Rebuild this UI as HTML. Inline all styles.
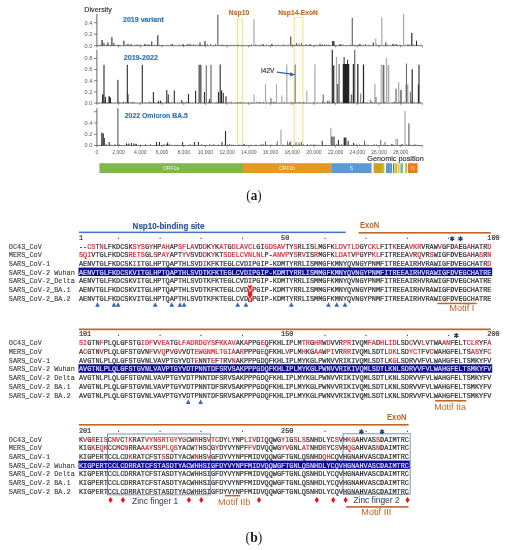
<!DOCTYPE html>
<html><head><meta charset="utf-8"><title>figure</title>
<style>
html,body{margin:0;padding:0;background:#fff;}
body{width:507px;height:550px;overflow:hidden;position:relative;}
svg{position:absolute;left:0;top:0;display:block;filter:blur(0.35px);}
</style></head><body>
<svg width="507" height="550" viewBox="0 0 507 550" font-family="Liberation Sans, sans-serif">
<rect width="507" height="550" fill="#fff"/>
<rect x="237.5" y="19.2" width="4.8" height="126.0" fill="#fffef8" stroke="#eedc62" stroke-width="0.8"/>
<rect x="294.1" y="17.3" width="8.8" height="127.9" fill="#fffef8" stroke="#eedc62" stroke-width="0.8"/>
<line x1="96.9" y1="14.0" x2="96.9" y2="46.2" stroke="#333" stroke-width="0.75"/>
<line x1="93.9" y1="45.70" x2="96.9" y2="45.70" stroke="#4a4a4a" stroke-width="0.7"/>
<line x1="93.9" y1="34.20" x2="96.9" y2="34.20" stroke="#4a4a4a" stroke-width="0.7"/>
<line x1="93.9" y1="22.70" x2="96.9" y2="22.70" stroke="#4a4a4a" stroke-width="0.7"/>
<text x="92.4" y="47.60" font-size="5.6" fill="#595959" text-anchor="end">0.0</text>
<text x="92.4" y="36.10" font-size="5.6" fill="#595959" text-anchor="end">0.2</text>
<text x="92.4" y="24.60" font-size="5.6" fill="#595959" text-anchor="end">0.4</text>
<line x1="96.9" y1="45.7" x2="422.40" y2="45.7" stroke="#4a4a4a" stroke-width="0.7"/>
<line x1="96.90" y1="45.7" x2="96.90" y2="47.5" stroke="#4a4a4a" stroke-width="0.6"/>
<line x1="118.60" y1="45.7" x2="118.60" y2="47.5" stroke="#4a4a4a" stroke-width="0.6"/>
<line x1="140.30" y1="45.7" x2="140.30" y2="47.5" stroke="#4a4a4a" stroke-width="0.6"/>
<line x1="162.00" y1="45.7" x2="162.00" y2="47.5" stroke="#4a4a4a" stroke-width="0.6"/>
<line x1="183.70" y1="45.7" x2="183.70" y2="47.5" stroke="#4a4a4a" stroke-width="0.6"/>
<line x1="205.40" y1="45.7" x2="205.40" y2="47.5" stroke="#4a4a4a" stroke-width="0.6"/>
<line x1="227.10" y1="45.7" x2="227.10" y2="47.5" stroke="#4a4a4a" stroke-width="0.6"/>
<line x1="248.80" y1="45.7" x2="248.80" y2="47.5" stroke="#4a4a4a" stroke-width="0.6"/>
<line x1="270.50" y1="45.7" x2="270.50" y2="47.5" stroke="#4a4a4a" stroke-width="0.6"/>
<line x1="292.20" y1="45.7" x2="292.20" y2="47.5" stroke="#4a4a4a" stroke-width="0.6"/>
<line x1="313.90" y1="45.7" x2="313.90" y2="47.5" stroke="#4a4a4a" stroke-width="0.6"/>
<line x1="335.60" y1="45.7" x2="335.60" y2="47.5" stroke="#4a4a4a" stroke-width="0.6"/>
<line x1="357.30" y1="45.7" x2="357.30" y2="47.5" stroke="#4a4a4a" stroke-width="0.6"/>
<line x1="379.00" y1="45.7" x2="379.00" y2="47.5" stroke="#4a4a4a" stroke-width="0.6"/>
<line x1="400.70" y1="45.7" x2="400.70" y2="47.5" stroke="#4a4a4a" stroke-width="0.6"/>
<line x1="422.40" y1="45.7" x2="422.40" y2="47.5" stroke="#4a4a4a" stroke-width="0.6"/>
<line x1="96.9" y1="49.7" x2="96.9" y2="103.6" stroke="#333" stroke-width="0.75"/>
<line x1="93.9" y1="103.10" x2="96.9" y2="103.10" stroke="#4a4a4a" stroke-width="0.7"/>
<line x1="93.9" y1="91.92" x2="96.9" y2="91.92" stroke="#4a4a4a" stroke-width="0.7"/>
<line x1="93.9" y1="80.74" x2="96.9" y2="80.74" stroke="#4a4a4a" stroke-width="0.7"/>
<line x1="93.9" y1="69.56" x2="96.9" y2="69.56" stroke="#4a4a4a" stroke-width="0.7"/>
<line x1="93.9" y1="58.38" x2="96.9" y2="58.38" stroke="#4a4a4a" stroke-width="0.7"/>
<text x="92.4" y="105.00" font-size="5.6" fill="#595959" text-anchor="end">0.0</text>
<text x="92.4" y="93.82" font-size="5.6" fill="#595959" text-anchor="end">0.2</text>
<text x="92.4" y="82.64" font-size="5.6" fill="#595959" text-anchor="end">0.4</text>
<text x="92.4" y="71.46" font-size="5.6" fill="#595959" text-anchor="end">0.6</text>
<text x="92.4" y="60.28" font-size="5.6" fill="#595959" text-anchor="end">0.8</text>
<line x1="96.9" y1="103.1" x2="422.40" y2="103.1" stroke="#4a4a4a" stroke-width="0.7"/>
<line x1="96.90" y1="103.1" x2="96.90" y2="104.89999999999999" stroke="#4a4a4a" stroke-width="0.6"/>
<line x1="118.60" y1="103.1" x2="118.60" y2="104.89999999999999" stroke="#4a4a4a" stroke-width="0.6"/>
<line x1="140.30" y1="103.1" x2="140.30" y2="104.89999999999999" stroke="#4a4a4a" stroke-width="0.6"/>
<line x1="162.00" y1="103.1" x2="162.00" y2="104.89999999999999" stroke="#4a4a4a" stroke-width="0.6"/>
<line x1="183.70" y1="103.1" x2="183.70" y2="104.89999999999999" stroke="#4a4a4a" stroke-width="0.6"/>
<line x1="205.40" y1="103.1" x2="205.40" y2="104.89999999999999" stroke="#4a4a4a" stroke-width="0.6"/>
<line x1="227.10" y1="103.1" x2="227.10" y2="104.89999999999999" stroke="#4a4a4a" stroke-width="0.6"/>
<line x1="248.80" y1="103.1" x2="248.80" y2="104.89999999999999" stroke="#4a4a4a" stroke-width="0.6"/>
<line x1="270.50" y1="103.1" x2="270.50" y2="104.89999999999999" stroke="#4a4a4a" stroke-width="0.6"/>
<line x1="292.20" y1="103.1" x2="292.20" y2="104.89999999999999" stroke="#4a4a4a" stroke-width="0.6"/>
<line x1="313.90" y1="103.1" x2="313.90" y2="104.89999999999999" stroke="#4a4a4a" stroke-width="0.6"/>
<line x1="335.60" y1="103.1" x2="335.60" y2="104.89999999999999" stroke="#4a4a4a" stroke-width="0.6"/>
<line x1="357.30" y1="103.1" x2="357.30" y2="104.89999999999999" stroke="#4a4a4a" stroke-width="0.6"/>
<line x1="379.00" y1="103.1" x2="379.00" y2="104.89999999999999" stroke="#4a4a4a" stroke-width="0.6"/>
<line x1="400.70" y1="103.1" x2="400.70" y2="104.89999999999999" stroke="#4a4a4a" stroke-width="0.6"/>
<line x1="422.40" y1="103.1" x2="422.40" y2="104.89999999999999" stroke="#4a4a4a" stroke-width="0.6"/>
<line x1="96.9" y1="108.0" x2="96.9" y2="146.0" stroke="#333" stroke-width="0.75"/>
<line x1="93.9" y1="145.50" x2="96.9" y2="145.50" stroke="#4a4a4a" stroke-width="0.7"/>
<line x1="93.9" y1="134.24" x2="96.9" y2="134.24" stroke="#4a4a4a" stroke-width="0.7"/>
<line x1="93.9" y1="122.98" x2="96.9" y2="122.98" stroke="#4a4a4a" stroke-width="0.7"/>
<line x1="93.9" y1="111.72" x2="96.9" y2="111.72" stroke="#4a4a4a" stroke-width="0.7"/>
<text x="92.4" y="147.40" font-size="5.6" fill="#595959" text-anchor="end">0.0</text>
<text x="92.4" y="136.14" font-size="5.6" fill="#595959" text-anchor="end">0.2</text>
<text x="92.4" y="124.88" font-size="5.6" fill="#595959" text-anchor="end">0.4</text>
<line x1="96.9" y1="145.5" x2="422.40" y2="145.5" stroke="#4a4a4a" stroke-width="0.7"/>
<line x1="96.90" y1="145.5" x2="96.90" y2="147.3" stroke="#4a4a4a" stroke-width="0.6"/>
<line x1="118.60" y1="145.5" x2="118.60" y2="147.3" stroke="#4a4a4a" stroke-width="0.6"/>
<line x1="140.30" y1="145.5" x2="140.30" y2="147.3" stroke="#4a4a4a" stroke-width="0.6"/>
<line x1="162.00" y1="145.5" x2="162.00" y2="147.3" stroke="#4a4a4a" stroke-width="0.6"/>
<line x1="183.70" y1="145.5" x2="183.70" y2="147.3" stroke="#4a4a4a" stroke-width="0.6"/>
<line x1="205.40" y1="145.5" x2="205.40" y2="147.3" stroke="#4a4a4a" stroke-width="0.6"/>
<line x1="227.10" y1="145.5" x2="227.10" y2="147.3" stroke="#4a4a4a" stroke-width="0.6"/>
<line x1="248.80" y1="145.5" x2="248.80" y2="147.3" stroke="#4a4a4a" stroke-width="0.6"/>
<line x1="270.50" y1="145.5" x2="270.50" y2="147.3" stroke="#4a4a4a" stroke-width="0.6"/>
<line x1="292.20" y1="145.5" x2="292.20" y2="147.3" stroke="#4a4a4a" stroke-width="0.6"/>
<line x1="313.90" y1="145.5" x2="313.90" y2="147.3" stroke="#4a4a4a" stroke-width="0.6"/>
<line x1="335.60" y1="145.5" x2="335.60" y2="147.3" stroke="#4a4a4a" stroke-width="0.6"/>
<line x1="357.30" y1="145.5" x2="357.30" y2="147.3" stroke="#4a4a4a" stroke-width="0.6"/>
<line x1="379.00" y1="145.5" x2="379.00" y2="147.3" stroke="#4a4a4a" stroke-width="0.6"/>
<line x1="400.70" y1="145.5" x2="400.70" y2="147.3" stroke="#4a4a4a" stroke-width="0.6"/>
<line x1="422.40" y1="145.5" x2="422.40" y2="147.3" stroke="#4a4a4a" stroke-width="0.6"/>
<text x="96.90" y="154.1" font-size="5.05" fill="#595959" text-anchor="middle">0</text>
<text x="118.60" y="154.1" font-size="5.05" fill="#595959" text-anchor="middle">2,000</text>
<text x="140.30" y="154.1" font-size="5.05" fill="#595959" text-anchor="middle">4,000</text>
<text x="162.00" y="154.1" font-size="5.05" fill="#595959" text-anchor="middle">6,000</text>
<text x="183.70" y="154.1" font-size="5.05" fill="#595959" text-anchor="middle">8,000</text>
<text x="205.40" y="154.1" font-size="5.05" fill="#595959" text-anchor="middle">10,000</text>
<text x="227.10" y="154.1" font-size="5.05" fill="#595959" text-anchor="middle">12,000</text>
<text x="248.80" y="154.1" font-size="5.05" fill="#595959" text-anchor="middle">14,000</text>
<text x="270.50" y="154.1" font-size="5.05" fill="#595959" text-anchor="middle">16,000</text>
<text x="292.20" y="154.1" font-size="5.05" fill="#595959" text-anchor="middle">18,000</text>
<text x="313.90" y="154.1" font-size="5.05" fill="#595959" text-anchor="middle">20,000</text>
<text x="335.60" y="154.1" font-size="5.05" fill="#595959" text-anchor="middle">22,000</text>
<text x="357.30" y="154.1" font-size="5.05" fill="#595959" text-anchor="middle">24,000</text>
<text x="379.00" y="154.1" font-size="5.05" fill="#595959" text-anchor="middle">26,000</text>
<text x="400.70" y="154.1" font-size="5.05" fill="#595959" text-anchor="middle">28,000</text>
<rect x="98.40" y="44.90" width="0.8" height="0.80" fill="#555"/>
<rect x="100.00" y="44.70" width="0.8" height="1.00" fill="#555"/>
<rect x="101.20" y="45.30" width="0.8" height="0.40" fill="#555"/>
<rect x="104.20" y="45.30" width="0.8" height="0.40" fill="#555"/>
<rect x="106.20" y="44.50" width="0.8" height="1.20" fill="#555"/>
<rect x="107.40" y="44.50" width="0.8" height="1.20" fill="#555"/>
<rect x="109.00" y="45.30" width="0.8" height="0.40" fill="#555"/>
<rect x="110.20" y="44.70" width="0.8" height="1.00" fill="#555"/>
<rect x="112.70" y="45.30" width="0.8" height="0.40" fill="#555"/>
<rect x="114.30" y="45.30" width="0.8" height="0.40" fill="#555"/>
<rect x="117.30" y="44.70" width="0.8" height="1.00" fill="#555"/>
<rect x="118.50" y="44.50" width="0.8" height="1.20" fill="#555"/>
<rect x="119.70" y="45.10" width="0.8" height="0.60" fill="#555"/>
<rect x="122.70" y="45.30" width="0.8" height="0.40" fill="#555"/>
<rect x="125.70" y="44.50" width="0.8" height="1.20" fill="#555"/>
<rect x="128.20" y="45.30" width="0.8" height="0.40" fill="#555"/>
<rect x="129.80" y="45.30" width="0.8" height="0.40" fill="#555"/>
<rect x="132.80" y="45.10" width="0.8" height="0.60" fill="#555"/>
<rect x="134.80" y="44.70" width="0.8" height="1.00" fill="#555"/>
<rect x="136.40" y="44.50" width="0.8" height="1.20" fill="#555"/>
<rect x="137.60" y="44.50" width="0.8" height="1.20" fill="#555"/>
<rect x="139.60" y="44.50" width="0.8" height="1.20" fill="#555"/>
<rect x="141.20" y="45.30" width="0.8" height="0.40" fill="#555"/>
<rect x="144.20" y="44.50" width="0.8" height="1.20" fill="#555"/>
<rect x="145.80" y="44.90" width="0.8" height="0.80" fill="#555"/>
<rect x="147.00" y="44.50" width="0.8" height="1.20" fill="#555"/>
<rect x="148.20" y="44.50" width="0.8" height="1.20" fill="#555"/>
<rect x="149.40" y="44.50" width="0.8" height="1.20" fill="#555"/>
<rect x="151.00" y="44.70" width="0.8" height="1.00" fill="#555"/>
<rect x="154.00" y="44.70" width="0.8" height="1.00" fill="#555"/>
<rect x="156.00" y="44.70" width="0.8" height="1.00" fill="#555"/>
<rect x="159.00" y="44.70" width="0.8" height="1.00" fill="#555"/>
<rect x="161.00" y="44.90" width="0.8" height="0.80" fill="#555"/>
<rect x="162.60" y="45.10" width="0.8" height="0.60" fill="#555"/>
<rect x="164.20" y="45.30" width="0.8" height="0.40" fill="#555"/>
<rect x="167.20" y="44.90" width="0.8" height="0.80" fill="#555"/>
<rect x="170.20" y="44.70" width="0.8" height="1.00" fill="#555"/>
<rect x="172.20" y="44.10" width="0.8" height="1.60" fill="#555"/>
<rect x="174.70" y="44.90" width="0.8" height="0.80" fill="#555"/>
<rect x="177.70" y="45.30" width="0.8" height="0.40" fill="#555"/>
<rect x="178.90" y="44.50" width="0.8" height="1.20" fill="#555"/>
<rect x="181.40" y="45.10" width="0.8" height="0.60" fill="#555"/>
<rect x="183.40" y="45.10" width="0.8" height="0.60" fill="#555"/>
<rect x="185.90" y="44.70" width="0.8" height="1.00" fill="#555"/>
<rect x="187.10" y="44.10" width="0.8" height="1.60" fill="#555"/>
<rect x="188.30" y="44.50" width="0.8" height="1.20" fill="#555"/>
<rect x="191.30" y="44.90" width="0.8" height="0.80" fill="#555"/>
<rect x="193.30" y="44.10" width="0.8" height="1.60" fill="#555"/>
<rect x="195.30" y="44.50" width="0.8" height="1.20" fill="#555"/>
<rect x="197.80" y="44.50" width="0.8" height="1.20" fill="#555"/>
<rect x="200.30" y="45.30" width="0.8" height="0.40" fill="#555"/>
<rect x="201.50" y="44.90" width="0.8" height="0.80" fill="#555"/>
<rect x="204.00" y="44.10" width="0.8" height="1.60" fill="#555"/>
<rect x="205.20" y="45.30" width="0.8" height="0.40" fill="#555"/>
<rect x="207.20" y="44.10" width="0.8" height="1.60" fill="#555"/>
<rect x="210.20" y="44.10" width="0.8" height="1.60" fill="#555"/>
<rect x="212.70" y="44.90" width="0.8" height="0.80" fill="#555"/>
<rect x="215.20" y="44.10" width="0.8" height="1.60" fill="#555"/>
<rect x="217.20" y="45.30" width="0.8" height="0.40" fill="#555"/>
<rect x="219.70" y="44.90" width="0.8" height="0.80" fill="#555"/>
<rect x="221.30" y="44.50" width="0.8" height="1.20" fill="#555"/>
<rect x="222.50" y="44.70" width="0.8" height="1.00" fill="#555"/>
<rect x="223.70" y="45.10" width="0.8" height="0.60" fill="#555"/>
<rect x="225.70" y="45.10" width="0.8" height="0.60" fill="#555"/>
<rect x="227.30" y="44.70" width="0.8" height="1.00" fill="#555"/>
<rect x="229.80" y="44.70" width="0.8" height="1.00" fill="#555"/>
<rect x="231.00" y="45.10" width="0.8" height="0.60" fill="#555"/>
<rect x="233.50" y="44.70" width="0.8" height="1.00" fill="#555"/>
<rect x="236.50" y="44.90" width="0.8" height="0.80" fill="#555"/>
<rect x="238.10" y="44.70" width="0.8" height="1.00" fill="#555"/>
<rect x="241.10" y="44.90" width="0.8" height="0.80" fill="#555"/>
<rect x="243.60" y="44.90" width="0.8" height="0.80" fill="#555"/>
<rect x="246.10" y="45.10" width="0.8" height="0.60" fill="#555"/>
<rect x="247.70" y="45.30" width="0.8" height="0.40" fill="#555"/>
<rect x="249.30" y="45.10" width="0.8" height="0.60" fill="#555"/>
<rect x="250.90" y="44.10" width="0.8" height="1.60" fill="#555"/>
<rect x="252.50" y="45.30" width="0.8" height="0.40" fill="#555"/>
<rect x="255.00" y="44.50" width="0.8" height="1.20" fill="#555"/>
<rect x="256.60" y="44.90" width="0.8" height="0.80" fill="#555"/>
<rect x="258.60" y="45.30" width="0.8" height="0.40" fill="#555"/>
<rect x="260.20" y="44.70" width="0.8" height="1.00" fill="#555"/>
<rect x="263.20" y="44.90" width="0.8" height="0.80" fill="#555"/>
<rect x="266.20" y="44.50" width="0.8" height="1.20" fill="#555"/>
<rect x="268.20" y="45.10" width="0.8" height="0.60" fill="#555"/>
<rect x="271.20" y="44.50" width="0.8" height="1.20" fill="#555"/>
<rect x="272.40" y="44.70" width="0.8" height="1.00" fill="#555"/>
<rect x="275.40" y="44.70" width="0.8" height="1.00" fill="#555"/>
<rect x="277.90" y="44.70" width="0.8" height="1.00" fill="#555"/>
<rect x="280.40" y="45.30" width="0.8" height="0.40" fill="#555"/>
<rect x="282.90" y="44.10" width="0.8" height="1.60" fill="#555"/>
<rect x="285.40" y="45.30" width="0.8" height="0.40" fill="#555"/>
<rect x="287.00" y="45.30" width="0.8" height="0.40" fill="#555"/>
<rect x="288.60" y="44.70" width="0.8" height="1.00" fill="#555"/>
<rect x="290.20" y="45.30" width="0.8" height="0.40" fill="#555"/>
<rect x="292.20" y="44.50" width="0.8" height="1.20" fill="#555"/>
<rect x="293.40" y="45.30" width="0.8" height="0.40" fill="#555"/>
<rect x="294.60" y="44.50" width="0.8" height="1.20" fill="#555"/>
<rect x="296.20" y="44.50" width="0.8" height="1.20" fill="#555"/>
<rect x="297.40" y="44.90" width="0.8" height="0.80" fill="#555"/>
<rect x="300.40" y="45.30" width="0.8" height="0.40" fill="#555"/>
<rect x="301.60" y="45.10" width="0.8" height="0.60" fill="#555"/>
<rect x="304.60" y="44.70" width="0.8" height="1.00" fill="#555"/>
<rect x="306.20" y="44.10" width="0.8" height="1.60" fill="#555"/>
<rect x="308.20" y="44.90" width="0.8" height="0.80" fill="#555"/>
<rect x="311.20" y="44.90" width="0.8" height="0.80" fill="#555"/>
<rect x="313.70" y="45.30" width="0.8" height="0.40" fill="#555"/>
<rect x="314.90" y="44.70" width="0.8" height="1.00" fill="#555"/>
<rect x="317.40" y="44.70" width="0.8" height="1.00" fill="#555"/>
<rect x="319.90" y="44.90" width="0.8" height="0.80" fill="#555"/>
<rect x="321.10" y="45.10" width="0.8" height="0.60" fill="#555"/>
<rect x="322.30" y="44.10" width="0.8" height="1.60" fill="#555"/>
<rect x="324.30" y="44.10" width="0.8" height="1.60" fill="#555"/>
<rect x="326.30" y="44.70" width="0.8" height="1.00" fill="#555"/>
<rect x="327.90" y="44.50" width="0.8" height="1.20" fill="#555"/>
<rect x="329.10" y="45.10" width="0.8" height="0.60" fill="#555"/>
<rect x="332.10" y="44.90" width="0.8" height="0.80" fill="#555"/>
<rect x="333.70" y="44.10" width="0.8" height="1.60" fill="#555"/>
<rect x="336.70" y="45.30" width="0.8" height="0.40" fill="#555"/>
<rect x="339.70" y="44.90" width="0.8" height="0.80" fill="#555"/>
<rect x="340.90" y="44.10" width="0.8" height="1.60" fill="#555"/>
<rect x="342.90" y="44.50" width="0.8" height="1.20" fill="#555"/>
<rect x="344.90" y="45.10" width="0.8" height="0.60" fill="#555"/>
<rect x="346.90" y="45.10" width="0.8" height="0.60" fill="#555"/>
<rect x="349.90" y="44.50" width="0.8" height="1.20" fill="#555"/>
<rect x="352.90" y="44.90" width="0.8" height="0.80" fill="#555"/>
<rect x="354.50" y="44.50" width="0.8" height="1.20" fill="#555"/>
<rect x="356.10" y="45.10" width="0.8" height="0.60" fill="#555"/>
<rect x="358.60" y="44.10" width="0.8" height="1.60" fill="#555"/>
<rect x="360.20" y="45.10" width="0.8" height="0.60" fill="#555"/>
<rect x="363.20" y="44.70" width="0.8" height="1.00" fill="#555"/>
<rect x="365.20" y="44.10" width="0.8" height="1.60" fill="#555"/>
<rect x="366.40" y="45.30" width="0.8" height="0.40" fill="#555"/>
<rect x="368.40" y="44.70" width="0.8" height="1.00" fill="#555"/>
<rect x="370.40" y="45.10" width="0.8" height="0.60" fill="#555"/>
<rect x="373.40" y="44.90" width="0.8" height="0.80" fill="#555"/>
<rect x="375.90" y="44.10" width="0.8" height="1.60" fill="#555"/>
<rect x="377.90" y="44.90" width="0.8" height="0.80" fill="#555"/>
<rect x="379.10" y="45.10" width="0.8" height="0.60" fill="#555"/>
<rect x="380.30" y="45.10" width="0.8" height="0.60" fill="#555"/>
<rect x="382.80" y="45.10" width="0.8" height="0.60" fill="#555"/>
<rect x="384.80" y="45.10" width="0.8" height="0.60" fill="#555"/>
<rect x="387.30" y="44.50" width="0.8" height="1.20" fill="#555"/>
<rect x="390.30" y="45.30" width="0.8" height="0.40" fill="#555"/>
<rect x="392.80" y="44.10" width="0.8" height="1.60" fill="#555"/>
<rect x="394.80" y="44.10" width="0.8" height="1.60" fill="#555"/>
<rect x="396.00" y="44.10" width="0.8" height="1.60" fill="#555"/>
<rect x="397.20" y="44.70" width="0.8" height="1.00" fill="#555"/>
<rect x="398.80" y="44.70" width="0.8" height="1.00" fill="#555"/>
<rect x="400.40" y="44.70" width="0.8" height="1.00" fill="#555"/>
<rect x="402.40" y="45.30" width="0.8" height="0.40" fill="#555"/>
<rect x="404.90" y="44.70" width="0.8" height="1.00" fill="#555"/>
<rect x="407.40" y="44.10" width="0.8" height="1.60" fill="#555"/>
<rect x="408.60" y="44.10" width="0.8" height="1.60" fill="#555"/>
<rect x="410.20" y="45.10" width="0.8" height="0.60" fill="#555"/>
<rect x="411.80" y="45.30" width="0.8" height="0.40" fill="#555"/>
<rect x="413.40" y="44.50" width="0.8" height="1.20" fill="#555"/>
<rect x="415.90" y="44.10" width="0.8" height="1.60" fill="#555"/>
<rect x="417.50" y="44.50" width="0.8" height="1.20" fill="#555"/>
<rect x="420.50" y="44.70" width="0.8" height="1.00" fill="#555"/>
<rect x="101.50" y="40.00" width="1.20" height="5.70" fill="#2b2b2b"/>
<rect x="103.50" y="43.00" width="1.00" height="2.70" fill="#2b2b2b"/>
<rect x="107.50" y="42.30" width="1.00" height="3.40" fill="#2b2b2b"/>
<rect x="111.35" y="37.10" width="1.10" height="8.60" fill="#2b2b2b"/>
<rect x="113.40" y="43.00" width="1.00" height="2.70" fill="#2b2b2b"/>
<rect x="123.35" y="40.80" width="1.10" height="4.90" fill="#2b2b2b"/>
<rect x="127.50" y="43.60" width="1.00" height="2.10" fill="#2b2b2b"/>
<rect x="130.50" y="44.00" width="1.00" height="1.70" fill="#2b2b2b"/>
<rect x="144.50" y="44.00" width="1.00" height="1.70" fill="#2b2b2b"/>
<rect x="151.30" y="41.50" width="1.00" height="4.20" fill="#2b2b2b"/>
<rect x="157.25" y="35.20" width="1.10" height="10.50" fill="#2b2b2b"/>
<rect x="199.50" y="42.30" width="1.00" height="3.40" fill="#2b2b2b"/>
<rect x="204.50" y="40.80" width="1.00" height="4.90" fill="#2b2b2b"/>
<rect x="217.20" y="14.70" width="1.20" height="31.00" fill="#6a6a6a"/>
<rect x="253.40" y="19.10" width="1.20" height="26.60" fill="#a8a8a8"/>
<rect x="290.00" y="36.50" width="1.40" height="9.20" fill="#6a6a6a"/>
<rect x="296.00" y="43.00" width="1.00" height="2.70" fill="#6a6a6a"/>
<rect x="298.50" y="43.50" width="1.00" height="2.20" fill="#6a6a6a"/>
<rect x="301.00" y="43.00" width="1.00" height="2.70" fill="#6a6a6a"/>
<rect x="332.10" y="41.00" width="1.00" height="4.70" fill="#2b2b2b"/>
<rect x="333.20" y="41.00" width="1.20" height="4.70" fill="#2b2b2b"/>
<rect x="351.70" y="17.90" width="1.20" height="27.80" fill="#6a6a6a"/>
<rect x="372.80" y="42.30" width="1.00" height="3.40" fill="#2b2b2b"/>
<rect x="375.20" y="38.60" width="1.20" height="7.10" fill="#a8a8a8"/>
<rect x="381.20" y="17.60" width="1.20" height="28.10" fill="#a8a8a8"/>
<rect x="385.30" y="42.30" width="1.00" height="3.40" fill="#2b2b2b"/>
<rect x="392.40" y="44.00" width="1.00" height="1.70" fill="#2b2b2b"/>
<rect x="403.00" y="13.90" width="1.20" height="31.80" fill="#a8a8a8"/>
<rect x="411.20" y="32.80" width="1.20" height="12.90" fill="#2b2b2b"/>
<rect x="416.00" y="40.70" width="1.00" height="5.00" fill="#2b2b2b"/>
<rect x="182.50" y="44.00" width="1.00" height="1.70" fill="#2b2b2b"/>
<rect x="171.50" y="44.20" width="1.00" height="1.50" fill="#2b2b2b"/>
<rect x="189.50" y="43.80" width="1.00" height="1.90" fill="#2b2b2b"/>
<rect x="262.50" y="44.00" width="1.00" height="1.70" fill="#2b2b2b"/>
<rect x="271.50" y="44.00" width="1.00" height="1.70" fill="#2b2b2b"/>
<rect x="309.50" y="44.00" width="1.00" height="1.70" fill="#2b2b2b"/>
<rect x="319.50" y="43.80" width="1.00" height="1.90" fill="#2b2b2b"/>
<rect x="339.50" y="44.00" width="1.00" height="1.70" fill="#2b2b2b"/>
<rect x="359.50" y="44.00" width="1.00" height="1.70" fill="#2b2b2b"/>
<rect x="98.40" y="102.50" width="0.8" height="0.60" fill="#555"/>
<rect x="101.40" y="101.90" width="0.8" height="1.20" fill="#555"/>
<rect x="103.00" y="102.70" width="0.8" height="0.40" fill="#555"/>
<rect x="104.20" y="101.50" width="0.8" height="1.60" fill="#555"/>
<rect x="105.40" y="101.90" width="0.8" height="1.20" fill="#555"/>
<rect x="107.00" y="102.10" width="0.8" height="1.00" fill="#555"/>
<rect x="108.60" y="102.50" width="0.8" height="0.60" fill="#555"/>
<rect x="109.80" y="102.30" width="0.8" height="0.80" fill="#555"/>
<rect x="111.40" y="102.30" width="0.8" height="0.80" fill="#555"/>
<rect x="114.40" y="102.50" width="0.8" height="0.60" fill="#555"/>
<rect x="117.40" y="102.30" width="0.8" height="0.80" fill="#555"/>
<rect x="119.40" y="101.90" width="0.8" height="1.20" fill="#555"/>
<rect x="121.90" y="102.50" width="0.8" height="0.60" fill="#555"/>
<rect x="123.10" y="101.50" width="0.8" height="1.60" fill="#555"/>
<rect x="125.10" y="102.10" width="0.8" height="1.00" fill="#555"/>
<rect x="128.10" y="101.90" width="0.8" height="1.20" fill="#555"/>
<rect x="130.60" y="101.90" width="0.8" height="1.20" fill="#555"/>
<rect x="132.20" y="101.90" width="0.8" height="1.20" fill="#555"/>
<rect x="133.80" y="101.90" width="0.8" height="1.20" fill="#555"/>
<rect x="136.80" y="102.70" width="0.8" height="0.40" fill="#555"/>
<rect x="139.30" y="102.50" width="0.8" height="0.60" fill="#555"/>
<rect x="142.30" y="102.70" width="0.8" height="0.40" fill="#555"/>
<rect x="143.90" y="102.50" width="0.8" height="0.60" fill="#555"/>
<rect x="145.50" y="102.10" width="0.8" height="1.00" fill="#555"/>
<rect x="148.50" y="101.50" width="0.8" height="1.60" fill="#555"/>
<rect x="149.70" y="101.90" width="0.8" height="1.20" fill="#555"/>
<rect x="150.90" y="102.30" width="0.8" height="0.80" fill="#555"/>
<rect x="153.90" y="101.90" width="0.8" height="1.20" fill="#555"/>
<rect x="156.90" y="102.10" width="0.8" height="1.00" fill="#555"/>
<rect x="158.10" y="101.90" width="0.8" height="1.20" fill="#555"/>
<rect x="159.30" y="102.50" width="0.8" height="0.60" fill="#555"/>
<rect x="160.90" y="102.30" width="0.8" height="0.80" fill="#555"/>
<rect x="162.10" y="102.70" width="0.8" height="0.40" fill="#555"/>
<rect x="165.10" y="102.10" width="0.8" height="1.00" fill="#555"/>
<rect x="168.10" y="102.70" width="0.8" height="0.40" fill="#555"/>
<rect x="169.30" y="102.10" width="0.8" height="1.00" fill="#555"/>
<rect x="171.30" y="101.90" width="0.8" height="1.20" fill="#555"/>
<rect x="174.30" y="101.90" width="0.8" height="1.20" fill="#555"/>
<rect x="177.30" y="102.50" width="0.8" height="0.60" fill="#555"/>
<rect x="179.30" y="102.10" width="0.8" height="1.00" fill="#555"/>
<rect x="182.30" y="101.90" width="0.8" height="1.20" fill="#555"/>
<rect x="184.80" y="101.90" width="0.8" height="1.20" fill="#555"/>
<rect x="186.40" y="101.50" width="0.8" height="1.60" fill="#555"/>
<rect x="189.40" y="102.30" width="0.8" height="0.80" fill="#555"/>
<rect x="192.40" y="102.50" width="0.8" height="0.60" fill="#555"/>
<rect x="194.90" y="102.50" width="0.8" height="0.60" fill="#555"/>
<rect x="197.40" y="102.70" width="0.8" height="0.40" fill="#555"/>
<rect x="199.90" y="102.10" width="0.8" height="1.00" fill="#555"/>
<rect x="201.90" y="102.70" width="0.8" height="0.40" fill="#555"/>
<rect x="203.50" y="102.10" width="0.8" height="1.00" fill="#555"/>
<rect x="204.70" y="102.50" width="0.8" height="0.60" fill="#555"/>
<rect x="206.70" y="102.70" width="0.8" height="0.40" fill="#555"/>
<rect x="208.30" y="101.50" width="0.8" height="1.60" fill="#555"/>
<rect x="210.30" y="102.50" width="0.8" height="0.60" fill="#555"/>
<rect x="212.30" y="102.50" width="0.8" height="0.60" fill="#555"/>
<rect x="214.80" y="102.50" width="0.8" height="0.60" fill="#555"/>
<rect x="216.00" y="102.10" width="0.8" height="1.00" fill="#555"/>
<rect x="218.50" y="102.50" width="0.8" height="0.60" fill="#555"/>
<rect x="220.10" y="102.50" width="0.8" height="0.60" fill="#555"/>
<rect x="222.60" y="101.90" width="0.8" height="1.20" fill="#555"/>
<rect x="225.10" y="102.30" width="0.8" height="0.80" fill="#555"/>
<rect x="227.60" y="102.50" width="0.8" height="0.60" fill="#555"/>
<rect x="229.60" y="102.30" width="0.8" height="0.80" fill="#555"/>
<rect x="230.80" y="101.50" width="0.8" height="1.60" fill="#555"/>
<rect x="232.80" y="102.70" width="0.8" height="0.40" fill="#555"/>
<rect x="234.80" y="101.90" width="0.8" height="1.20" fill="#555"/>
<rect x="237.30" y="102.10" width="0.8" height="1.00" fill="#555"/>
<rect x="238.50" y="102.10" width="0.8" height="1.00" fill="#555"/>
<rect x="240.50" y="101.90" width="0.8" height="1.20" fill="#555"/>
<rect x="243.50" y="102.30" width="0.8" height="0.80" fill="#555"/>
<rect x="246.50" y="102.70" width="0.8" height="0.40" fill="#555"/>
<rect x="247.70" y="102.50" width="0.8" height="0.60" fill="#555"/>
<rect x="248.90" y="102.70" width="0.8" height="0.40" fill="#555"/>
<rect x="250.90" y="102.30" width="0.8" height="0.80" fill="#555"/>
<rect x="252.10" y="102.50" width="0.8" height="0.60" fill="#555"/>
<rect x="254.10" y="102.50" width="0.8" height="0.60" fill="#555"/>
<rect x="256.60" y="101.50" width="0.8" height="1.60" fill="#555"/>
<rect x="258.60" y="102.10" width="0.8" height="1.00" fill="#555"/>
<rect x="260.20" y="101.90" width="0.8" height="1.20" fill="#555"/>
<rect x="263.20" y="101.90" width="0.8" height="1.20" fill="#555"/>
<rect x="265.70" y="101.50" width="0.8" height="1.60" fill="#555"/>
<rect x="267.70" y="102.70" width="0.8" height="0.40" fill="#555"/>
<rect x="269.70" y="102.70" width="0.8" height="0.40" fill="#555"/>
<rect x="271.30" y="102.10" width="0.8" height="1.00" fill="#555"/>
<rect x="272.50" y="102.30" width="0.8" height="0.80" fill="#555"/>
<rect x="273.70" y="101.50" width="0.8" height="1.60" fill="#555"/>
<rect x="274.90" y="102.30" width="0.8" height="0.80" fill="#555"/>
<rect x="276.10" y="101.90" width="0.8" height="1.20" fill="#555"/>
<rect x="277.70" y="102.70" width="0.8" height="0.40" fill="#555"/>
<rect x="279.70" y="102.70" width="0.8" height="0.40" fill="#555"/>
<rect x="282.20" y="102.70" width="0.8" height="0.40" fill="#555"/>
<rect x="284.20" y="101.90" width="0.8" height="1.20" fill="#555"/>
<rect x="286.70" y="102.30" width="0.8" height="0.80" fill="#555"/>
<rect x="289.70" y="102.50" width="0.8" height="0.60" fill="#555"/>
<rect x="290.90" y="101.90" width="0.8" height="1.20" fill="#555"/>
<rect x="292.50" y="102.70" width="0.8" height="0.40" fill="#555"/>
<rect x="294.10" y="102.30" width="0.8" height="0.80" fill="#555"/>
<rect x="295.30" y="102.50" width="0.8" height="0.60" fill="#555"/>
<rect x="296.90" y="102.30" width="0.8" height="0.80" fill="#555"/>
<rect x="298.90" y="101.90" width="0.8" height="1.20" fill="#555"/>
<rect x="300.50" y="102.30" width="0.8" height="0.80" fill="#555"/>
<rect x="303.00" y="101.90" width="0.8" height="1.20" fill="#555"/>
<rect x="304.60" y="102.30" width="0.8" height="0.80" fill="#555"/>
<rect x="306.60" y="102.70" width="0.8" height="0.40" fill="#555"/>
<rect x="308.60" y="102.70" width="0.8" height="0.40" fill="#555"/>
<rect x="309.80" y="102.70" width="0.8" height="0.40" fill="#555"/>
<rect x="312.80" y="101.90" width="0.8" height="1.20" fill="#555"/>
<rect x="314.40" y="101.90" width="0.8" height="1.20" fill="#555"/>
<rect x="316.90" y="102.50" width="0.8" height="0.60" fill="#555"/>
<rect x="319.40" y="102.70" width="0.8" height="0.40" fill="#555"/>
<rect x="321.90" y="101.50" width="0.8" height="1.60" fill="#555"/>
<rect x="324.40" y="101.90" width="0.8" height="1.20" fill="#555"/>
<rect x="326.90" y="101.90" width="0.8" height="1.20" fill="#555"/>
<rect x="328.90" y="101.50" width="0.8" height="1.60" fill="#555"/>
<rect x="330.50" y="102.50" width="0.8" height="0.60" fill="#555"/>
<rect x="332.50" y="102.50" width="0.8" height="0.60" fill="#555"/>
<rect x="334.10" y="102.10" width="0.8" height="1.00" fill="#555"/>
<rect x="336.10" y="102.70" width="0.8" height="0.40" fill="#555"/>
<rect x="337.70" y="102.70" width="0.8" height="0.40" fill="#555"/>
<rect x="338.90" y="101.50" width="0.8" height="1.60" fill="#555"/>
<rect x="340.90" y="102.10" width="0.8" height="1.00" fill="#555"/>
<rect x="342.50" y="102.70" width="0.8" height="0.40" fill="#555"/>
<rect x="343.70" y="101.50" width="0.8" height="1.60" fill="#555"/>
<rect x="346.20" y="101.90" width="0.8" height="1.20" fill="#555"/>
<rect x="348.20" y="101.90" width="0.8" height="1.20" fill="#555"/>
<rect x="349.80" y="101.50" width="0.8" height="1.60" fill="#555"/>
<rect x="351.80" y="102.70" width="0.8" height="0.40" fill="#555"/>
<rect x="354.30" y="102.50" width="0.8" height="0.60" fill="#555"/>
<rect x="355.90" y="102.30" width="0.8" height="0.80" fill="#555"/>
<rect x="358.40" y="102.70" width="0.8" height="0.40" fill="#555"/>
<rect x="360.40" y="102.30" width="0.8" height="0.80" fill="#555"/>
<rect x="362.40" y="101.90" width="0.8" height="1.20" fill="#555"/>
<rect x="364.40" y="102.50" width="0.8" height="0.60" fill="#555"/>
<rect x="365.60" y="102.30" width="0.8" height="0.80" fill="#555"/>
<rect x="367.20" y="102.30" width="0.8" height="0.80" fill="#555"/>
<rect x="368.80" y="102.70" width="0.8" height="0.40" fill="#555"/>
<rect x="370.80" y="102.10" width="0.8" height="1.00" fill="#555"/>
<rect x="372.00" y="102.10" width="0.8" height="1.00" fill="#555"/>
<rect x="374.00" y="101.90" width="0.8" height="1.20" fill="#555"/>
<rect x="375.60" y="102.50" width="0.8" height="0.60" fill="#555"/>
<rect x="378.60" y="102.70" width="0.8" height="0.40" fill="#555"/>
<rect x="379.80" y="102.30" width="0.8" height="0.80" fill="#555"/>
<rect x="381.00" y="102.50" width="0.8" height="0.60" fill="#555"/>
<rect x="383.50" y="101.90" width="0.8" height="1.20" fill="#555"/>
<rect x="384.70" y="102.10" width="0.8" height="1.00" fill="#555"/>
<rect x="385.90" y="102.30" width="0.8" height="0.80" fill="#555"/>
<rect x="387.90" y="101.50" width="0.8" height="1.60" fill="#555"/>
<rect x="389.50" y="102.70" width="0.8" height="0.40" fill="#555"/>
<rect x="392.50" y="101.90" width="0.8" height="1.20" fill="#555"/>
<rect x="394.10" y="101.50" width="0.8" height="1.60" fill="#555"/>
<rect x="397.10" y="102.10" width="0.8" height="1.00" fill="#555"/>
<rect x="399.10" y="101.50" width="0.8" height="1.60" fill="#555"/>
<rect x="401.60" y="102.50" width="0.8" height="0.60" fill="#555"/>
<rect x="403.60" y="101.50" width="0.8" height="1.60" fill="#555"/>
<rect x="406.60" y="101.50" width="0.8" height="1.60" fill="#555"/>
<rect x="408.20" y="102.70" width="0.8" height="0.40" fill="#555"/>
<rect x="411.20" y="101.50" width="0.8" height="1.60" fill="#555"/>
<rect x="413.70" y="101.50" width="0.8" height="1.60" fill="#555"/>
<rect x="416.70" y="102.50" width="0.8" height="0.60" fill="#555"/>
<rect x="419.70" y="101.90" width="0.8" height="1.20" fill="#555"/>
<rect x="102.05" y="94.40" width="1.50" height="8.70" fill="#2b2b2b"/>
<rect x="103.45" y="64.80" width="1.10" height="38.30" fill="#2b2b2b"/>
<rect x="105.00" y="97.00" width="1.00" height="6.10" fill="#2b2b2b"/>
<rect x="108.45" y="96.30" width="1.50" height="6.80" fill="#2b2b2b"/>
<rect x="110.00" y="97.50" width="1.00" height="5.60" fill="#2b2b2b"/>
<rect x="117.35" y="79.90" width="1.10" height="23.20" fill="#2b2b2b"/>
<rect x="126.75" y="64.80" width="1.10" height="38.30" fill="#2b2b2b"/>
<rect x="127.50" y="94.40" width="1.00" height="8.70" fill="#2b2b2b"/>
<rect x="141.75" y="64.80" width="1.10" height="38.30" fill="#2b2b2b"/>
<rect x="152.85" y="92.00" width="1.10" height="11.10" fill="#2b2b2b"/>
<rect x="158.00" y="100.70" width="1.00" height="2.40" fill="#2b2b2b"/>
<rect x="160.00" y="100.70" width="1.00" height="2.40" fill="#2b2b2b"/>
<rect x="166.25" y="90.00" width="1.10" height="13.10" fill="#2b2b2b"/>
<rect x="167.80" y="94.40" width="1.00" height="8.70" fill="#2b2b2b"/>
<rect x="173.75" y="90.50" width="1.10" height="12.60" fill="#2b2b2b"/>
<rect x="181.30" y="100.00" width="1.00" height="3.10" fill="#2b2b2b"/>
<rect x="187.95" y="94.00" width="1.10" height="9.10" fill="#2b2b2b"/>
<rect x="195.05" y="90.60" width="1.10" height="12.50" fill="#2b2b2b"/>
<rect x="198.45" y="64.80" width="3.10" height="38.30" fill="#6a6a6a"/>
<rect x="203.95" y="92.00" width="1.10" height="11.10" fill="#2b2b2b"/>
<rect x="205.75" y="65.30" width="1.10" height="37.80" fill="#6a6a6a"/>
<rect x="209.20" y="99.00" width="1.00" height="4.10" fill="#2b2b2b"/>
<rect x="210.40" y="64.80" width="1.20" height="38.30" fill="#6a6a6a"/>
<rect x="217.90" y="92.00" width="1.20" height="11.10" fill="#2b2b2b"/>
<rect x="219.65" y="64.50" width="1.10" height="38.60" fill="#2b2b2b"/>
<rect x="221.00" y="90.50" width="1.20" height="12.60" fill="#2b2b2b"/>
<rect x="222.80" y="93.00" width="1.00" height="10.10" fill="#2b2b2b"/>
<rect x="225.45" y="96.30" width="1.10" height="6.80" fill="#2b2b2b"/>
<rect x="253.55" y="94.40" width="1.10" height="8.70" fill="#a8a8a8"/>
<rect x="264.95" y="84.20" width="1.10" height="18.90" fill="#a8a8a8"/>
<rect x="270.50" y="97.90" width="1.00" height="5.20" fill="#6a6a6a"/>
<rect x="275.95" y="84.20" width="1.10" height="18.90" fill="#a8a8a8"/>
<rect x="281.25" y="95.20" width="1.10" height="7.90" fill="#a8a8a8"/>
<rect x="286.20" y="64.50" width="1.20" height="38.60" fill="#a8a8a8"/>
<rect x="294.60" y="64.50" width="1.20" height="38.60" fill="#8a8560"/>
<rect x="306.25" y="90.50" width="1.10" height="12.60" fill="#a8a8a8"/>
<rect x="314.30" y="64.50" width="1.20" height="38.60" fill="#a8a8a8"/>
<rect x="322.65" y="94.40" width="1.10" height="8.70" fill="#6a6a6a"/>
<rect x="327.00" y="100.70" width="1.00" height="2.40" fill="#6a6a6a"/>
<rect x="328.50" y="100.70" width="1.00" height="2.40" fill="#6a6a6a"/>
<rect x="331.70" y="49.80" width="1.20" height="53.30" fill="#2b2b2b"/>
<rect x="333.10" y="65.30" width="1.20" height="37.80" fill="#2b2b2b"/>
<rect x="335.85" y="56.90" width="1.30" height="46.20" fill="#a8a8a8"/>
<rect x="337.30" y="84.00" width="1.00" height="19.10" fill="#2b2b2b"/>
<rect x="338.50" y="64.00" width="1.20" height="39.10" fill="#6a6a6a"/>
<rect x="342.75" y="64.00" width="6.50" height="39.10" fill="#1e1e1e"/>
<rect x="343.60" y="57.00" width="1.00" height="46.10" fill="#2b2b2b"/>
<rect x="347.10" y="59.70" width="1.00" height="43.40" fill="#2b2b2b"/>
<rect x="350.75" y="94.40" width="1.50" height="8.70" fill="#6a6a6a"/>
<rect x="352.80" y="64.00" width="1.20" height="39.10" fill="#2b2b2b"/>
<rect x="354.10" y="49.80" width="1.20" height="53.30" fill="#6a6a6a"/>
<rect x="357.15" y="64.00" width="1.30" height="39.10" fill="#2b2b2b"/>
<rect x="360.20" y="93.60" width="1.00" height="9.50" fill="#6a6a6a"/>
<rect x="362.85" y="64.50" width="1.30" height="38.60" fill="#2b2b2b"/>
<rect x="370.30" y="100.00" width="1.00" height="3.10" fill="#6a6a6a"/>
<rect x="374.30" y="84.20" width="1.20" height="18.90" fill="#a8a8a8"/>
<rect x="375.50" y="97.00" width="1.00" height="6.10" fill="#6a6a6a"/>
<rect x="380.65" y="65.00" width="1.10" height="38.10" fill="#a8a8a8"/>
<rect x="382.60" y="65.00" width="1.80" height="38.10" fill="#6a6a6a"/>
<rect x="385.90" y="58.00" width="1.20" height="45.10" fill="#a8a8a8"/>
<rect x="387.70" y="65.00" width="1.60" height="38.10" fill="#a8a8a8"/>
<rect x="395.40" y="88.70" width="1.20" height="14.40" fill="#6a6a6a"/>
<rect x="398.10" y="82.20" width="1.20" height="20.90" fill="#a8a8a8"/>
<rect x="400.45" y="90.00" width="1.10" height="13.10" fill="#2b2b2b"/>
<rect x="405.40" y="84.60" width="3.00" height="18.50" fill="#a8a8a8"/>
<rect x="405.95" y="63.50" width="1.10" height="39.60" fill="#6a6a6a"/>
<rect x="409.90" y="91.70" width="1.00" height="11.40" fill="#6a6a6a"/>
<rect x="411.60" y="69.20" width="1.20" height="33.90" fill="#2b2b2b"/>
<rect x="417.85" y="84.60" width="1.10" height="18.50" fill="#2b2b2b"/>
<rect x="418.45" y="64.70" width="1.10" height="38.40" fill="#2b2b2b"/>
<rect x="98.40" y="145.10" width="0.8" height="0.40" fill="#555"/>
<rect x="101.40" y="143.90" width="0.8" height="1.60" fill="#555"/>
<rect x="103.00" y="145.10" width="0.8" height="0.40" fill="#555"/>
<rect x="104.20" y="145.10" width="0.8" height="0.40" fill="#555"/>
<rect x="105.80" y="143.90" width="0.8" height="1.60" fill="#555"/>
<rect x="107.80" y="145.10" width="0.8" height="0.40" fill="#555"/>
<rect x="110.30" y="144.50" width="0.8" height="1.00" fill="#555"/>
<rect x="113.30" y="145.10" width="0.8" height="0.40" fill="#555"/>
<rect x="114.50" y="143.90" width="0.8" height="1.60" fill="#555"/>
<rect x="117.50" y="143.90" width="0.8" height="1.60" fill="#555"/>
<rect x="119.10" y="144.50" width="0.8" height="1.00" fill="#555"/>
<rect x="121.10" y="145.10" width="0.8" height="0.40" fill="#555"/>
<rect x="123.60" y="145.10" width="0.8" height="0.40" fill="#555"/>
<rect x="126.60" y="144.30" width="0.8" height="1.20" fill="#555"/>
<rect x="127.80" y="143.90" width="0.8" height="1.60" fill="#555"/>
<rect x="130.80" y="145.10" width="0.8" height="0.40" fill="#555"/>
<rect x="133.30" y="144.70" width="0.8" height="0.80" fill="#555"/>
<rect x="134.50" y="144.70" width="0.8" height="0.80" fill="#555"/>
<rect x="136.10" y="143.90" width="0.8" height="1.60" fill="#555"/>
<rect x="137.70" y="144.90" width="0.8" height="0.60" fill="#555"/>
<rect x="140.20" y="144.50" width="0.8" height="1.00" fill="#555"/>
<rect x="142.70" y="145.10" width="0.8" height="0.40" fill="#555"/>
<rect x="145.20" y="143.90" width="0.8" height="1.60" fill="#555"/>
<rect x="147.20" y="145.10" width="0.8" height="0.40" fill="#555"/>
<rect x="150.20" y="143.90" width="0.8" height="1.60" fill="#555"/>
<rect x="151.80" y="145.10" width="0.8" height="0.40" fill="#555"/>
<rect x="154.80" y="144.90" width="0.8" height="0.60" fill="#555"/>
<rect x="156.80" y="144.70" width="0.8" height="0.80" fill="#555"/>
<rect x="158.80" y="144.30" width="0.8" height="1.20" fill="#555"/>
<rect x="161.80" y="144.90" width="0.8" height="0.60" fill="#555"/>
<rect x="163.00" y="144.50" width="0.8" height="1.00" fill="#555"/>
<rect x="164.20" y="144.50" width="0.8" height="1.00" fill="#555"/>
<rect x="166.20" y="143.90" width="0.8" height="1.60" fill="#555"/>
<rect x="167.40" y="143.90" width="0.8" height="1.60" fill="#555"/>
<rect x="169.00" y="143.90" width="0.8" height="1.60" fill="#555"/>
<rect x="171.50" y="144.70" width="0.8" height="0.80" fill="#555"/>
<rect x="174.50" y="144.70" width="0.8" height="0.80" fill="#555"/>
<rect x="177.00" y="144.50" width="0.8" height="1.00" fill="#555"/>
<rect x="179.50" y="145.10" width="0.8" height="0.40" fill="#555"/>
<rect x="182.50" y="144.90" width="0.8" height="0.60" fill="#555"/>
<rect x="184.50" y="145.10" width="0.8" height="0.40" fill="#555"/>
<rect x="187.00" y="145.10" width="0.8" height="0.40" fill="#555"/>
<rect x="189.00" y="144.50" width="0.8" height="1.00" fill="#555"/>
<rect x="190.20" y="144.30" width="0.8" height="1.20" fill="#555"/>
<rect x="192.70" y="144.70" width="0.8" height="0.80" fill="#555"/>
<rect x="195.20" y="144.90" width="0.8" height="0.60" fill="#555"/>
<rect x="196.80" y="145.10" width="0.8" height="0.40" fill="#555"/>
<rect x="199.80" y="145.10" width="0.8" height="0.40" fill="#555"/>
<rect x="201.40" y="143.90" width="0.8" height="1.60" fill="#555"/>
<rect x="204.40" y="144.70" width="0.8" height="0.80" fill="#555"/>
<rect x="206.40" y="144.90" width="0.8" height="0.60" fill="#555"/>
<rect x="209.40" y="143.90" width="0.8" height="1.60" fill="#555"/>
<rect x="212.40" y="144.70" width="0.8" height="0.80" fill="#555"/>
<rect x="213.60" y="143.90" width="0.8" height="1.60" fill="#555"/>
<rect x="215.60" y="144.90" width="0.8" height="0.60" fill="#555"/>
<rect x="218.10" y="144.50" width="0.8" height="1.00" fill="#555"/>
<rect x="220.60" y="145.10" width="0.8" height="0.40" fill="#555"/>
<rect x="222.20" y="145.10" width="0.8" height="0.40" fill="#555"/>
<rect x="224.70" y="143.90" width="0.8" height="1.60" fill="#555"/>
<rect x="227.20" y="144.50" width="0.8" height="1.00" fill="#555"/>
<rect x="229.20" y="143.90" width="0.8" height="1.60" fill="#555"/>
<rect x="230.80" y="144.50" width="0.8" height="1.00" fill="#555"/>
<rect x="232.80" y="144.50" width="0.8" height="1.00" fill="#555"/>
<rect x="234.80" y="145.10" width="0.8" height="0.40" fill="#555"/>
<rect x="236.80" y="145.10" width="0.8" height="0.40" fill="#555"/>
<rect x="238.80" y="144.70" width="0.8" height="0.80" fill="#555"/>
<rect x="241.30" y="145.10" width="0.8" height="0.40" fill="#555"/>
<rect x="242.90" y="143.90" width="0.8" height="1.60" fill="#555"/>
<rect x="244.10" y="143.90" width="0.8" height="1.60" fill="#555"/>
<rect x="246.10" y="144.70" width="0.8" height="0.80" fill="#555"/>
<rect x="248.10" y="145.10" width="0.8" height="0.40" fill="#555"/>
<rect x="250.60" y="144.50" width="0.8" height="1.00" fill="#555"/>
<rect x="253.60" y="145.10" width="0.8" height="0.40" fill="#555"/>
<rect x="255.60" y="144.50" width="0.8" height="1.00" fill="#555"/>
<rect x="257.60" y="145.10" width="0.8" height="0.40" fill="#555"/>
<rect x="259.60" y="145.10" width="0.8" height="0.40" fill="#555"/>
<rect x="260.80" y="143.90" width="0.8" height="1.60" fill="#555"/>
<rect x="262.80" y="143.90" width="0.8" height="1.60" fill="#555"/>
<rect x="264.40" y="144.90" width="0.8" height="0.60" fill="#555"/>
<rect x="266.40" y="144.50" width="0.8" height="1.00" fill="#555"/>
<rect x="269.40" y="144.70" width="0.8" height="0.80" fill="#555"/>
<rect x="271.00" y="144.70" width="0.8" height="0.80" fill="#555"/>
<rect x="273.50" y="145.10" width="0.8" height="0.40" fill="#555"/>
<rect x="276.00" y="144.30" width="0.8" height="1.20" fill="#555"/>
<rect x="279.00" y="144.90" width="0.8" height="0.60" fill="#555"/>
<rect x="280.20" y="145.10" width="0.8" height="0.40" fill="#555"/>
<rect x="282.70" y="144.50" width="0.8" height="1.00" fill="#555"/>
<rect x="285.70" y="144.90" width="0.8" height="0.60" fill="#555"/>
<rect x="287.70" y="144.50" width="0.8" height="1.00" fill="#555"/>
<rect x="288.90" y="144.30" width="0.8" height="1.20" fill="#555"/>
<rect x="290.50" y="144.90" width="0.8" height="0.60" fill="#555"/>
<rect x="293.00" y="144.50" width="0.8" height="1.00" fill="#555"/>
<rect x="295.00" y="144.70" width="0.8" height="0.80" fill="#555"/>
<rect x="297.00" y="144.70" width="0.8" height="0.80" fill="#555"/>
<rect x="299.00" y="144.50" width="0.8" height="1.00" fill="#555"/>
<rect x="300.60" y="144.70" width="0.8" height="0.80" fill="#555"/>
<rect x="303.10" y="144.30" width="0.8" height="1.20" fill="#555"/>
<rect x="305.60" y="145.10" width="0.8" height="0.40" fill="#555"/>
<rect x="307.20" y="143.90" width="0.8" height="1.60" fill="#555"/>
<rect x="308.80" y="145.10" width="0.8" height="0.40" fill="#555"/>
<rect x="310.40" y="144.30" width="0.8" height="1.20" fill="#555"/>
<rect x="312.90" y="144.30" width="0.8" height="1.20" fill="#555"/>
<rect x="314.50" y="144.50" width="0.8" height="1.00" fill="#555"/>
<rect x="316.50" y="144.50" width="0.8" height="1.00" fill="#555"/>
<rect x="319.00" y="144.90" width="0.8" height="0.60" fill="#555"/>
<rect x="322.00" y="144.90" width="0.8" height="0.60" fill="#555"/>
<rect x="323.60" y="145.10" width="0.8" height="0.40" fill="#555"/>
<rect x="325.20" y="144.70" width="0.8" height="0.80" fill="#555"/>
<rect x="328.20" y="145.10" width="0.8" height="0.40" fill="#555"/>
<rect x="330.20" y="144.90" width="0.8" height="0.60" fill="#555"/>
<rect x="332.20" y="144.70" width="0.8" height="0.80" fill="#555"/>
<rect x="335.20" y="144.90" width="0.8" height="0.60" fill="#555"/>
<rect x="336.40" y="143.90" width="0.8" height="1.60" fill="#555"/>
<rect x="338.90" y="144.50" width="0.8" height="1.00" fill="#555"/>
<rect x="341.40" y="143.90" width="0.8" height="1.60" fill="#555"/>
<rect x="344.40" y="144.90" width="0.8" height="0.60" fill="#555"/>
<rect x="346.90" y="144.70" width="0.8" height="0.80" fill="#555"/>
<rect x="348.90" y="145.10" width="0.8" height="0.40" fill="#555"/>
<rect x="351.40" y="144.70" width="0.8" height="0.80" fill="#555"/>
<rect x="354.40" y="144.70" width="0.8" height="0.80" fill="#555"/>
<rect x="356.00" y="143.90" width="0.8" height="1.60" fill="#555"/>
<rect x="359.00" y="144.30" width="0.8" height="1.20" fill="#555"/>
<rect x="360.60" y="145.10" width="0.8" height="0.40" fill="#555"/>
<rect x="362.60" y="144.90" width="0.8" height="0.60" fill="#555"/>
<rect x="365.10" y="144.50" width="0.8" height="1.00" fill="#555"/>
<rect x="367.60" y="144.50" width="0.8" height="1.00" fill="#555"/>
<rect x="369.60" y="145.10" width="0.8" height="0.40" fill="#555"/>
<rect x="371.20" y="145.10" width="0.8" height="0.40" fill="#555"/>
<rect x="373.70" y="143.90" width="0.8" height="1.60" fill="#555"/>
<rect x="376.20" y="144.30" width="0.8" height="1.20" fill="#555"/>
<rect x="378.70" y="145.10" width="0.8" height="0.40" fill="#555"/>
<rect x="379.90" y="144.50" width="0.8" height="1.00" fill="#555"/>
<rect x="382.90" y="144.50" width="0.8" height="1.00" fill="#555"/>
<rect x="385.40" y="144.90" width="0.8" height="0.60" fill="#555"/>
<rect x="386.60" y="144.90" width="0.8" height="0.60" fill="#555"/>
<rect x="388.20" y="144.90" width="0.8" height="0.60" fill="#555"/>
<rect x="391.20" y="143.90" width="0.8" height="1.60" fill="#555"/>
<rect x="392.40" y="143.90" width="0.8" height="1.60" fill="#555"/>
<rect x="394.90" y="145.10" width="0.8" height="0.40" fill="#555"/>
<rect x="397.90" y="145.10" width="0.8" height="0.40" fill="#555"/>
<rect x="399.10" y="144.90" width="0.8" height="0.60" fill="#555"/>
<rect x="400.70" y="144.30" width="0.8" height="1.20" fill="#555"/>
<rect x="401.90" y="143.90" width="0.8" height="1.60" fill="#555"/>
<rect x="403.90" y="144.90" width="0.8" height="0.60" fill="#555"/>
<rect x="405.90" y="144.30" width="0.8" height="1.20" fill="#555"/>
<rect x="408.40" y="143.90" width="0.8" height="1.60" fill="#555"/>
<rect x="409.60" y="145.10" width="0.8" height="0.40" fill="#555"/>
<rect x="410.80" y="144.70" width="0.8" height="0.80" fill="#555"/>
<rect x="413.80" y="144.30" width="0.8" height="1.20" fill="#555"/>
<rect x="415.40" y="144.50" width="0.8" height="1.00" fill="#555"/>
<rect x="417.40" y="144.90" width="0.8" height="0.60" fill="#555"/>
<rect x="420.40" y="145.10" width="0.8" height="0.40" fill="#555"/>
<rect x="101.25" y="132.60" width="1.30" height="12.90" fill="#2b2b2b"/>
<rect x="102.60" y="133.50" width="1.20" height="12.00" fill="#2b2b2b"/>
<rect x="103.80" y="138.00" width="1.00" height="7.50" fill="#2b2b2b"/>
<rect x="108.70" y="142.00" width="1.00" height="3.50" fill="#2b2b2b"/>
<rect x="117.30" y="108.20" width="1.20" height="37.30" fill="#6a6a6a"/>
<rect x="126.00" y="143.30" width="1.00" height="2.20" fill="#2b2b2b"/>
<rect x="128.50" y="143.50" width="1.00" height="2.00" fill="#2b2b2b"/>
<rect x="131.00" y="143.00" width="1.00" height="2.50" fill="#2b2b2b"/>
<rect x="133.50" y="143.50" width="1.00" height="2.00" fill="#2b2b2b"/>
<rect x="135.50" y="143.80" width="1.00" height="1.70" fill="#2b2b2b"/>
<rect x="156.00" y="142.00" width="1.00" height="3.50" fill="#2b2b2b"/>
<rect x="159.00" y="142.00" width="1.00" height="3.50" fill="#2b2b2b"/>
<rect x="167.10" y="142.50" width="1.00" height="3.00" fill="#2b2b2b"/>
<rect x="182.10" y="142.00" width="1.00" height="3.50" fill="#2b2b2b"/>
<rect x="193.90" y="142.00" width="1.00" height="3.50" fill="#2b2b2b"/>
<rect x="197.90" y="142.00" width="1.00" height="3.50" fill="#2b2b2b"/>
<rect x="221.50" y="142.00" width="1.00" height="3.50" fill="#2b2b2b"/>
<rect x="224.95" y="131.00" width="1.10" height="14.50" fill="#2b2b2b"/>
<rect x="265.00" y="141.30" width="1.00" height="4.20" fill="#6a6a6a"/>
<rect x="276.80" y="141.30" width="1.00" height="4.20" fill="#6a6a6a"/>
<rect x="280.40" y="129.40" width="1.20" height="16.10" fill="#a8a8a8"/>
<rect x="287.10" y="141.30" width="1.00" height="4.20" fill="#6a6a6a"/>
<rect x="289.00" y="142.50" width="1.00" height="3.00" fill="#6a6a6a"/>
<rect x="290.20" y="141.30" width="1.00" height="4.20" fill="#6a6a6a"/>
<rect x="295.50" y="142.00" width="1.00" height="3.50" fill="#6a6a6a"/>
<rect x="298.50" y="142.50" width="1.00" height="3.00" fill="#6a6a6a"/>
<rect x="301.00" y="142.00" width="1.00" height="3.50" fill="#6a6a6a"/>
<rect x="321.70" y="140.80" width="1.00" height="4.70" fill="#2b2b2b"/>
<rect x="330.20" y="127.80" width="1.20" height="17.70" fill="#a8a8a8"/>
<rect x="331.40" y="136.50" width="1.20" height="9.00" fill="#2b2b2b"/>
<rect x="333.45" y="136.50" width="1.10" height="9.00" fill="#2b2b2b"/>
<rect x="337.90" y="139.70" width="1.00" height="5.80" fill="#2b2b2b"/>
<rect x="343.65" y="137.50" width="1.30" height="8.00" fill="#2b2b2b"/>
<rect x="345.15" y="137.50" width="1.30" height="8.00" fill="#2b2b2b"/>
<rect x="347.70" y="140.80" width="1.00" height="4.70" fill="#2b2b2b"/>
<rect x="353.10" y="143.00" width="1.00" height="2.50" fill="#2b2b2b"/>
<rect x="364.00" y="140.80" width="1.00" height="4.70" fill="#6a6a6a"/>
<rect x="380.20" y="139.70" width="1.00" height="5.80" fill="#6a6a6a"/>
<rect x="384.50" y="142.00" width="1.00" height="3.50" fill="#6a6a6a"/>
<rect x="395.40" y="138.60" width="1.20" height="6.90" fill="#a8a8a8"/>
<rect x="396.90" y="139.00" width="1.20" height="6.50" fill="#a8a8a8"/>
<rect x="404.40" y="111.00" width="1.20" height="34.50" fill="#a8a8a8"/>
<rect x="408.30" y="123.40" width="1.20" height="22.10" fill="#6a6a6a"/>
<text x="84.3" y="12.3" font-size="7.6" fill="#2a2a2a" stroke="#2a2a2a" stroke-width="0.12" textLength="27.7" lengthAdjust="spacingAndGlyphs">Diversity</text>
<text x="123" y="21.8" font-size="7.7" font-weight="bold" fill="#2e75b6" stroke="#2e75b6" stroke-width="0.18" textLength="40.8" lengthAdjust="spacingAndGlyphs">2019 variant</text>
<text x="123.7" y="59.6" font-size="7.5" font-weight="bold" fill="#2e75b6" stroke="#2e75b6" stroke-width="0.18" textLength="34.2" lengthAdjust="spacingAndGlyphs">2019-2022</text>
<text x="124.8" y="118" font-size="7.5" font-weight="bold" fill="#2e75b6" stroke="#2e75b6" stroke-width="0.18" textLength="63.1" lengthAdjust="spacingAndGlyphs">2022 Omicron BA.5</text>
<text x="228.8" y="15.4" font-size="7.5" font-weight="bold" fill="#c0651f" stroke="#c0651f" stroke-width="0.12" textLength="20.5" lengthAdjust="spacingAndGlyphs">Nsp10</text>
<text x="278.2" y="15.4" font-size="7.5" font-weight="bold" fill="#c0651f" stroke="#c0651f" stroke-width="0.12" textLength="39.7" lengthAdjust="spacingAndGlyphs">Nsp14-ExoN</text>
<text x="261.0" y="73.4" font-size="6.5" fill="#1e1e1e" stroke="#1e1e1e" stroke-width="0.12">I42V</text>
<line x1="276.8" y1="72.2" x2="291.5" y2="74.2" stroke="#2e63b8" stroke-width="1.2"/>
<path d="M295.5 74.8 L290.2 72.3 L290.0 76.2 Z" fill="#2e63b8"/>
<text x="367.3" y="160.8" font-size="8.1" fill="#2a2a2a" stroke="#2a2a2a" stroke-width="0.13" textLength="56.4" lengthAdjust="spacingAndGlyphs">Genomic position</text>
<rect x="99.4" y="163.2" width="143.60" height="9.9" fill="#80b84e"/>
<rect x="243.0" y="163.2" width="88.20" height="9.9" fill="#e39a1e"/>
<rect x="331.2" y="163.2" width="40.40" height="9.9" fill="#5b9bd5"/>
<rect x="373.6" y="163.2" width="9.20" height="9.9" fill="#d1a118"/>
<rect x="382.8" y="163.2" width="1.60" height="9.9" fill="#9ccc3c"/>
<rect x="386.0" y="163.2" width="6.00" height="9.9" fill="#5b9bd5"/>
<rect x="393.0" y="163.2" width="1.00" height="9.9" fill="#e0452a"/>
<rect x="394.3" y="163.2" width="3.20" height="9.9" fill="#c8c83a"/>
<rect x="398.2" y="163.2" width="1.40" height="9.9" fill="#e6b84a"/>
<rect x="400.3" y="163.2" width="2.70" height="9.9" fill="#6fc0b0"/>
<rect x="405.0" y="163.2" width="2.00" height="9.9" fill="#c6c93c"/>
<rect x="407.8" y="163.2" width="9.80" height="9.9" fill="#ef7a1a"/>
<text x="171" y="170.3" font-size="5" fill="#eef5e6" text-anchor="middle">ORF1a</text>
<text x="287" y="170.3" font-size="5" fill="#fbecd2" text-anchor="middle">ORF1b</text>
<text x="351.5" y="170.3" font-size="5" fill="#e6f0fa" text-anchor="middle">S</text>
<text x="412.7" y="170.3" font-size="5" fill="#fde7d2" text-anchor="middle">N</text>
<text x="246.3" y="199.6" font-family="Liberation Serif" font-size="13.8" fill="#1a1a1a" textLength="15.4" lengthAdjust="spacingAndGlyphs">(<tspan font-weight="bold">a</tspan>)</text>
<rect x="107.5" y="434.0" width="102.90" height="60.80" fill="none" stroke="#6f87a8" stroke-width="0.9"/>
<rect x="343.0" y="433.8" width="67.20" height="60.50" fill="none" stroke="#6f87a8" stroke-width="0.9"/>
<text x="78.90" y="239.78" font-family="Liberation Mono" font-size="6.875" fill="#353535" stroke="#353535" stroke-width="0.22">1</text>
<text x="281.02" y="239.78" font-family="Liberation Mono" font-size="6.875" fill="#353535" stroke="#353535" stroke-width="0.22">50</text>
<text x="487.27" y="239.78" font-family="Liberation Mono" font-size="6.875" fill="#353535" stroke="#353535" stroke-width="0.22">100</text>
<text x="116.62" y="239.38" font-family="Liberation Mono" font-size="6.875" fill="#353535" stroke="#353535" stroke-width="0.15">.</text>
<text x="157.88" y="239.38" font-family="Liberation Mono" font-size="6.875" fill="#353535" stroke="#353535" stroke-width="0.15">.</text>
<text x="199.12" y="239.38" font-family="Liberation Mono" font-size="6.875" fill="#353535" stroke="#353535" stroke-width="0.15">.</text>
<text x="240.38" y="239.38" font-family="Liberation Mono" font-size="6.875" fill="#353535" stroke="#353535" stroke-width="0.15">.</text>
<text x="322.88" y="239.38" font-family="Liberation Mono" font-size="6.875" fill="#353535" stroke="#353535" stroke-width="0.15">.</text>
<text x="364.12" y="239.38" font-family="Liberation Mono" font-size="6.875" fill="#353535" stroke="#353535" stroke-width="0.15">.</text>
<text x="405.38" y="239.38" font-family="Liberation Mono" font-size="6.875" fill="#353535" stroke="#353535" stroke-width="0.15">.</text>
<text x="446.62" y="239.38" font-family="Liberation Mono" font-size="6.875" fill="#353535" stroke="#353535" stroke-width="0.15">.</text>
<path d="M452.21 236.28L452.21 241.28M454.38 237.53L450.05 240.03M454.38 240.03L450.05 237.53" stroke="#1f3a78" stroke-width="1.3" fill="none"/>
<path d="M460.46 236.28L460.46 241.28M462.63 237.53L458.30 240.03M462.63 240.03L458.30 237.53" stroke="#1f3a78" stroke-width="1.3" fill="none"/>
<text transform="matrix(1 0 0 1.08 0 248.50)" y="0" font-family="Liberation Mono" font-size="6.875"><tspan x="8.78 12.90 17.03 21.15 25.28 29.40 33.53 37.65" fill="#404040" stroke="#404040" stroke-width="0.12">OC43_CoV</tspan><tspan x="78.90 83.03" fill="#353535" stroke="#353535" stroke-width="0.22">--</tspan><tspan x="87.15 91.28" fill="#d62f38" stroke="#d62f38" stroke-width="0.22">CS</tspan><tspan x="95.40" fill="#353535" stroke="#353535" stroke-width="0.22">T</tspan><tspan x="99.53" fill="#d62f38" stroke="#d62f38" stroke-width="0.22">N</tspan><tspan x="103.65 107.78 111.90 116.03 120.15 124.28 128.40" fill="#353535" stroke="#353535" stroke-width="0.22">LFKDCSK</tspan><tspan x="132.53 136.65 140.78" fill="#d62f38" stroke="#d62f38" stroke-width="0.22">SYS</tspan><tspan x="144.90" fill="#353535" stroke="#353535" stroke-width="0.22">G</tspan><tspan x="149.03" fill="#d62f38" stroke="#d62f38" stroke-width="0.22">Y</tspan><tspan x="153.15 157.28" fill="#353535" stroke="#353535" stroke-width="0.22">HP</tspan><tspan x="161.40 165.53" fill="#d62f38" stroke="#d62f38" stroke-width="0.22">AH</tspan><tspan x="169.65 173.78" fill="#353535" stroke="#353535" stroke-width="0.22">AP</tspan><tspan x="177.90 182.03" fill="#d62f38" stroke="#d62f38" stroke-width="0.22">SF</tspan><tspan x="186.15" fill="#353535" stroke="#353535" stroke-width="0.22">L</tspan><tspan x="190.28" fill="#d62f38" stroke="#d62f38" stroke-width="0.22">A</tspan><tspan x="194.40 198.53" fill="#353535" stroke="#353535" stroke-width="0.22">VD</tspan><tspan x="202.65" fill="#d62f38" stroke="#d62f38" stroke-width="0.22">D</tspan><tspan x="206.78" fill="#353535" stroke="#353535" stroke-width="0.22">K</tspan><tspan x="210.90" fill="#d62f38" stroke="#d62f38" stroke-width="0.22">Y</tspan><tspan x="215.03" fill="#353535" stroke="#353535" stroke-width="0.22">K</tspan><tspan x="219.15 223.28" fill="#d62f38" stroke="#d62f38" stroke-width="0.22">AT</tspan><tspan x="227.40" fill="#353535" stroke="#353535" stroke-width="0.22">G</tspan><tspan x="231.53 235.65 239.78 243.90 248.03 252.15" fill="#d62f38" stroke="#d62f38" stroke-width="0.22">DLAVCL</tspan><tspan x="256.27 260.40" fill="#353535" stroke="#353535" stroke-width="0.22">GI</tspan><tspan x="264.52 268.65 272.77 276.90 281.02" fill="#d62f38" stroke="#d62f38" stroke-width="0.22">GDSAV</tspan><tspan x="285.15 289.27" fill="#353535" stroke="#353535" stroke-width="0.22">TY</tspan><tspan x="293.40" fill="#d62f38" stroke="#d62f38" stroke-width="0.22">S</tspan><tspan x="297.52 301.65 305.77 309.90" fill="#353535" stroke="#353535" stroke-width="0.22">RLIS</tspan><tspan x="314.02" fill="#d62f38" stroke="#d62f38" stroke-width="0.22">L</tspan><tspan x="318.15 322.27 326.40 330.52" fill="#353535" stroke="#353535" stroke-width="0.22">MGFK</tspan><tspan x="334.65 338.77 342.90 347.02 351.15 355.27" fill="#d62f38" stroke="#d62f38" stroke-width="0.22">LDVTLD</tspan><tspan x="359.40 363.52" fill="#353535" stroke="#353535" stroke-width="0.22">GY</tspan><tspan x="367.65 371.77 375.90" fill="#d62f38" stroke="#d62f38" stroke-width="0.22">CKL</tspan><tspan x="380.02 384.15 388.27" fill="#353535" stroke="#353535" stroke-width="0.22">FIT</tspan><tspan x="392.40" fill="#d62f38" stroke="#d62f38" stroke-width="0.22">K</tspan><tspan x="396.52 400.65 404.77" fill="#353535" stroke="#353535" stroke-width="0.22">EEA</tspan><tspan x="408.90 413.02 417.15" fill="#d62f38" stroke="#d62f38" stroke-width="0.22">VKR</tspan><tspan x="421.27 425.40 429.52 433.65" fill="#353535" stroke="#353535" stroke-width="0.22">VRAW</tspan><tspan x="437.77" fill="#d62f38" stroke="#d62f38" stroke-width="0.22">V</tspan><tspan x="441.90 446.02" fill="#353535" stroke="#353535" stroke-width="0.22">GF</tspan><tspan x="450.15" fill="#353535" stroke="#353535" stroke-width="0.05" font-weight="bold">D</tspan><tspan x="454.27" fill="#d62f38" stroke="#d62f38" stroke-width="0.22">A</tspan><tspan x="458.40" fill="#353535" stroke="#353535" stroke-width="0.05" font-weight="bold">E</tspan><tspan x="462.52" fill="#353535" stroke="#353535" stroke-width="0.22">G</tspan><tspan x="466.65" fill="#d62f38" stroke="#d62f38" stroke-width="0.22">A</tspan><tspan x="470.77 474.90 479.02 483.15" fill="#353535" stroke="#353535" stroke-width="0.22">HATR</tspan><tspan x="487.27" fill="#d62f38" stroke="#d62f38" stroke-width="0.22">D</tspan></text>
<text transform="matrix(1 0 0 1.08 0 257.22)" y="0" font-family="Liberation Mono" font-size="6.875"><tspan x="8.78 12.90 17.03 21.15 25.28 29.40 33.53 37.65" fill="#404040" stroke="#404040" stroke-width="0.12">MERS_CoV</tspan><tspan x="78.90 83.03 87.15" fill="#d62f38" stroke="#d62f38" stroke-width="0.22">SQI</tspan><tspan x="91.28 95.40 99.53 103.65 107.78 111.90 116.03 120.15 124.28" fill="#353535" stroke="#353535" stroke-width="0.22">VTGLFKDCS</tspan><tspan x="128.40 132.53 136.65 140.78" fill="#d62f38" stroke="#d62f38" stroke-width="0.22">RETS</tspan><tspan x="144.90 149.03" fill="#353535" stroke="#353535" stroke-width="0.22">GL</tspan><tspan x="153.15" fill="#d62f38" stroke="#d62f38" stroke-width="0.22">S</tspan><tspan x="157.28" fill="#353535" stroke="#353535" stroke-width="0.22">P</tspan><tspan x="161.40 165.53" fill="#d62f38" stroke="#d62f38" stroke-width="0.22">AY</tspan><tspan x="169.65 173.78 177.90" fill="#353535" stroke="#353535" stroke-width="0.22">APT</tspan><tspan x="182.03 186.15" fill="#d62f38" stroke="#d62f38" stroke-width="0.22">YV</tspan><tspan x="190.28 194.40 198.53" fill="#353535" stroke="#353535" stroke-width="0.22">SVD</tspan><tspan x="202.65" fill="#d62f38" stroke="#d62f38" stroke-width="0.22">D</tspan><tspan x="206.78" fill="#353535" stroke="#353535" stroke-width="0.22">K</tspan><tspan x="210.90" fill="#d62f38" stroke="#d62f38" stroke-width="0.22">Y</tspan><tspan x="215.03 219.15" fill="#353535" stroke="#353535" stroke-width="0.22">KT</tspan><tspan x="223.28 227.40 231.53 235.65 239.78 243.90 248.03 252.15 256.27 260.40" fill="#d62f38" stroke="#d62f38" stroke-width="0.22">SDELCVNLNL</tspan><tspan x="264.52 268.65" fill="#353535" stroke="#353535" stroke-width="0.22">P-</tspan><tspan x="272.77 276.90 281.02 285.15" fill="#d62f38" stroke="#d62f38" stroke-width="0.22">ANVP</tspan><tspan x="289.27" fill="#353535" stroke="#353535" stroke-width="0.22">Y</tspan><tspan x="293.40" fill="#d62f38" stroke="#d62f38" stroke-width="0.22">S</tspan><tspan x="297.52" fill="#353535" stroke="#353535" stroke-width="0.22">R</tspan><tspan x="301.65" fill="#d62f38" stroke="#d62f38" stroke-width="0.22">V</tspan><tspan x="305.77 309.90" fill="#353535" stroke="#353535" stroke-width="0.22">IS</tspan><tspan x="314.02" fill="#d62f38" stroke="#d62f38" stroke-width="0.22">R</tspan><tspan x="318.15 322.27 326.40 330.52" fill="#353535" stroke="#353535" stroke-width="0.22">MGFK</tspan><tspan x="334.65 338.77 342.90 347.02" fill="#d62f38" stroke="#d62f38" stroke-width="0.22">LDAT</tspan><tspan x="351.15" fill="#353535" stroke="#353535" stroke-width="0.22">V</tspan><tspan x="355.27" fill="#d62f38" stroke="#d62f38" stroke-width="0.22">P</tspan><tspan x="359.40 363.52 367.65" fill="#353535" stroke="#353535" stroke-width="0.22">GYP</tspan><tspan x="371.77 375.90" fill="#d62f38" stroke="#d62f38" stroke-width="0.22">KL</tspan><tspan x="380.02 384.15 388.27 392.40 396.52 400.65 404.77" fill="#353535" stroke="#353535" stroke-width="0.22">FITREEA</tspan><tspan x="408.90" fill="#d62f38" stroke="#d62f38" stroke-width="0.22">V</tspan><tspan x="413.02" fill="#353535" stroke="#353535" stroke-width="0.22">R</tspan><tspan x="417.15" fill="#d62f38" stroke="#d62f38" stroke-width="0.22">Q</tspan><tspan x="421.27 425.40" fill="#353535" stroke="#353535" stroke-width="0.22">VR</tspan><tspan x="429.52" fill="#d62f38" stroke="#d62f38" stroke-width="0.22">S</tspan><tspan x="433.65 437.77 441.90 446.02" fill="#353535" stroke="#353535" stroke-width="0.22">WIGF</tspan><tspan x="450.15" fill="#353535" stroke="#353535" stroke-width="0.05" font-weight="bold">D</tspan><tspan x="454.27" fill="#353535" stroke="#353535" stroke-width="0.22">V</tspan><tspan x="458.40" fill="#353535" stroke="#353535" stroke-width="0.05" font-weight="bold">E</tspan><tspan x="462.52" fill="#353535" stroke="#353535" stroke-width="0.22">G</tspan><tspan x="466.65" fill="#d62f38" stroke="#d62f38" stroke-width="0.22">A</tspan><tspan x="470.77 474.90" fill="#353535" stroke="#353535" stroke-width="0.22">HA</tspan><tspan x="479.02" fill="#d62f38" stroke="#d62f38" stroke-width="0.22">S</tspan><tspan x="483.15" fill="#353535" stroke="#353535" stroke-width="0.22">R</tspan><tspan x="487.27" fill="#d62f38" stroke="#d62f38" stroke-width="0.22">N</tspan></text>
<text transform="matrix(1 0 0 1.08 0 265.94)" y="0" font-family="Liberation Mono" font-size="6.875"><tspan x="8.78 12.90 17.03 21.15 25.28 29.40 33.53 37.65 41.78 45.90" fill="#404040" stroke="#404040" stroke-width="0.12">SARS_CoV-1</tspan><tspan x="78.90 83.03 87.15 91.28 95.40 99.53 103.65 107.78 111.90 116.03 120.15 124.28 128.40" fill="#353535" stroke="#353535" stroke-width="0.22">AENVTGLFKDCSK</tspan><tspan x="132.53" fill="#d62f38" stroke="#d62f38" stroke-width="0.22">I</tspan><tspan x="136.65 140.78 144.90 149.03 153.15 157.28 161.40 165.53 169.65 173.78 177.90 182.03 186.15 190.28 194.40 198.53" fill="#353535" stroke="#353535" stroke-width="0.22">ITGLHPTQAPTHLSVD</tspan><tspan x="202.65" fill="#d62f38" stroke="#d62f38" stroke-width="0.22">I</tspan><tspan x="206.78 210.90 215.03 219.15 223.28 227.40 231.53 235.65 239.78 243.90 248.03 252.15 256.27 260.40 264.52 268.65 272.77 276.90 281.02 285.15 289.27 293.40 297.52 301.65 305.77 309.90 314.02 318.15 322.27 326.40 330.52 334.65 338.77 342.90 347.02 351.15 355.27 359.40 363.52 367.65 371.77 375.90 380.02 384.15 388.27 392.40 396.52 400.65 404.77 408.90 413.02 417.15 421.27 425.40 429.52 433.65 437.77 441.90 446.02" fill="#353535" stroke="#353535" stroke-width="0.22">KFKTEGLCVDIPGIP-KDMTYRRLISMMGFKMNYQVNGYPNMFITREEAIRHVRAWIGF</tspan><tspan x="450.15" fill="#353535" stroke="#353535" stroke-width="0.05" font-weight="bold">D</tspan><tspan x="454.27" fill="#353535" stroke="#353535" stroke-width="0.22">V</tspan><tspan x="458.40" fill="#353535" stroke="#353535" stroke-width="0.05" font-weight="bold">E</tspan><tspan x="462.52 466.65 470.77 474.90 479.02 483.15" fill="#353535" stroke="#353535" stroke-width="0.22">GCHATR</tspan><tspan x="487.27" fill="#d62f38" stroke="#d62f38" stroke-width="0.22">D</tspan></text>
<rect x="78.50" y="267.56" width="413.70" height="8.5" fill="#0d0d95"/>
<text transform="matrix(1 0 0 1.08 0 274.66)" y="0" font-family="Liberation Mono" font-size="6.875"><tspan x="8.78 12.90 17.03 21.15 25.28 29.40 33.53 37.65 41.78 45.90 50.03 54.15 58.28 62.40 66.53 70.65" fill="#404040" stroke="#404040" stroke-width="0.12">SARS_CoV-2 Wuhan</tspan><tspan x="78.90 83.03 87.15 91.28 95.40 99.53 103.65 107.78 111.90 116.03 120.15 124.28 128.40 132.53 136.65 140.78 144.90 149.03 153.15 157.28 161.40 165.53 169.65 173.78 177.90 182.03 186.15 190.28 194.40 198.53 202.65 206.78 210.90 215.03 219.15 223.28 227.40 231.53 235.65 239.78 243.90 248.03 252.15 256.27 260.40 264.52 268.65 272.77 276.90 281.02 285.15 289.27 293.40 297.52 301.65 305.77 309.90 314.02 318.15 322.27 326.40 330.52 334.65 338.77 342.90 347.02 351.15 355.27 359.40 363.52 367.65 371.77 375.90 380.02 384.15 388.27 392.40 396.52 400.65 404.77 408.90 413.02 417.15 421.27 425.40 429.52 433.65 437.77 441.90 446.02" fill="#d8d8f4" stroke="#d8d8f4" stroke-width="0.22">AENVTGLFKDCSKVITGLHPTQAPTHLSVDTKFKTEGLCVDIPGIP-KDMTYRRLISMMGFKMNYQVNGYPNMFITREEAIRHVRAWIGF</tspan><tspan x="450.15" fill="#d8d8f4" stroke="#d8d8f4" stroke-width="0.05" font-weight="bold">D</tspan><tspan x="454.27" fill="#d8d8f4" stroke="#d8d8f4" stroke-width="0.22">V</tspan><tspan x="458.40" fill="#d8d8f4" stroke="#d8d8f4" stroke-width="0.05" font-weight="bold">E</tspan><tspan x="462.52 466.65 470.77 474.90 479.02 483.15 487.27" fill="#d8d8f4" stroke="#d8d8f4" stroke-width="0.22">GCHATRE</tspan></text>
<text transform="matrix(1 0 0 1.08 0 283.38)" y="0" font-family="Liberation Mono" font-size="6.875"><tspan x="8.78 12.90 17.03 21.15 25.28 29.40 33.53 37.65 41.78 45.90 50.03 54.15 58.28 62.40 66.53 70.65" fill="#404040" stroke="#404040" stroke-width="0.12">SARS_CoV-2_Delta</tspan><tspan x="78.90 83.03 87.15 91.28 95.40 99.53 103.65 107.78 111.90 116.03 120.15 124.28 128.40 132.53 136.65 140.78 144.90 149.03 153.15 157.28 161.40 165.53 169.65 173.78 177.90 182.03 186.15 190.28 194.40 198.53 202.65 206.78 210.90 215.03 219.15 223.28 227.40 231.53 235.65 239.78 243.90 248.03 252.15 256.27 260.40 264.52 268.65 272.77 276.90 281.02 285.15 289.27 293.40 297.52 301.65 305.77 309.90 314.02 318.15 322.27 326.40 330.52 334.65 338.77 342.90 347.02 351.15 355.27 359.40 363.52 367.65 371.77 375.90 380.02 384.15 388.27 392.40 396.52 400.65 404.77 408.90 413.02 417.15 421.27 425.40 429.52 433.65 437.77 441.90 446.02" fill="#353535" stroke="#353535" stroke-width="0.22">AENVTGLFKDCSKVITGLHPTQAPTHLSVDTKFKTEGLCVDIPGIP-KDMTYRRLISMMGFKMNYQVNGYPNMFITREEAIRHVRAWIGF</tspan><tspan x="450.15" fill="#353535" stroke="#353535" stroke-width="0.05" font-weight="bold">D</tspan><tspan x="454.27" fill="#353535" stroke="#353535" stroke-width="0.22">V</tspan><tspan x="458.40" fill="#353535" stroke="#353535" stroke-width="0.05" font-weight="bold">E</tspan><tspan x="462.52 466.65 470.77 474.90 479.02 483.15 487.27" fill="#353535" stroke="#353535" stroke-width="0.22">GCHATRE</tspan></text>
<text transform="matrix(1 0 0 1.08 0 292.10)" y="0" font-family="Liberation Mono" font-size="6.875"><tspan x="8.78 12.90 17.03 21.15 25.28 29.40 33.53 37.65 41.78 45.90 50.03 54.15 58.28 62.40 66.53" fill="#404040" stroke="#404040" stroke-width="0.12">SARS_CoV-2_BA.1</tspan><tspan x="78.90 83.03 87.15 91.28 95.40 99.53 103.65 107.78 111.90 116.03 120.15 124.28 128.40 132.53 136.65 140.78 144.90 149.03 153.15 157.28 161.40 165.53 169.65 173.78 177.90 182.03 186.15 190.28 194.40 198.53 202.65 206.78 210.90 215.03 219.15 223.28 227.40 231.53 235.65 239.78 243.90 248.03 252.15 256.27 260.40 264.52 268.65 272.77 276.90 281.02 285.15 289.27 293.40 297.52 301.65 305.77 309.90 314.02 318.15 322.27 326.40 330.52 334.65 338.77 342.90 347.02 351.15 355.27 359.40 363.52 367.65 371.77 375.90 380.02 384.15 388.27 392.40 396.52 400.65 404.77 408.90 413.02 417.15 421.27 425.40 429.52 433.65 437.77 441.90 446.02" fill="#353535" stroke="#353535" stroke-width="0.22">AENVTGLFKDCSKVITGLHPTQAPTHLSVDTKFKTEGLCVDVPGIP-KDMTYRRLISMMGFKMNYQVNGYPNMFITREEAIRHVRAWIGF</tspan><tspan x="450.15" fill="#353535" stroke="#353535" stroke-width="0.05" font-weight="bold">D</tspan><tspan x="454.27" fill="#353535" stroke="#353535" stroke-width="0.22">V</tspan><tspan x="458.40" fill="#353535" stroke="#353535" stroke-width="0.05" font-weight="bold">E</tspan><tspan x="462.52 466.65 470.77 474.90 479.02 483.15 487.27" fill="#353535" stroke="#353535" stroke-width="0.22">GCHATRE</tspan></text>
<text transform="matrix(1 0 0 1.08 0 300.82)" y="0" font-family="Liberation Mono" font-size="6.875"><tspan x="8.78 12.90 17.03 21.15 25.28 29.40 33.53 37.65 41.78 45.90 50.03 54.15 58.28 62.40 66.53" fill="#404040" stroke="#404040" stroke-width="0.12">SARS_CoV-2_BA.2</tspan><tspan x="78.90 83.03 87.15 91.28 95.40 99.53 103.65 107.78 111.90 116.03 120.15 124.28 128.40 132.53 136.65 140.78 144.90 149.03 153.15 157.28 161.40 165.53 169.65 173.78 177.90 182.03 186.15 190.28 194.40 198.53 202.65 206.78 210.90 215.03 219.15 223.28 227.40 231.53 235.65 239.78 243.90 248.03 252.15 256.27 260.40 264.52 268.65 272.77 276.90 281.02 285.15 289.27 293.40 297.52 301.65 305.77 309.90 314.02 318.15 322.27 326.40 330.52 334.65 338.77 342.90 347.02 351.15 355.27 359.40 363.52 367.65 371.77 375.90 380.02 384.15 388.27 392.40 396.52 400.65 404.77 408.90 413.02 417.15 421.27 425.40 429.52 433.65 437.77 441.90 446.02" fill="#353535" stroke="#353535" stroke-width="0.22">AENVTGLFKDCSKVITGLHPTQAPTHLSVDTKFKTEGLCVDVPGIP-KDMTYRRLISMMGFKMNYQVNGYPNMFITREEAIRHVRAWIGF</tspan><tspan x="450.15" fill="#353535" stroke="#353535" stroke-width="0.05" font-weight="bold">D</tspan><tspan x="454.27" fill="#353535" stroke="#353535" stroke-width="0.22">V</tspan><tspan x="458.40" fill="#353535" stroke="#353535" stroke-width="0.05" font-weight="bold">E</tspan><tspan x="462.52 466.65 470.77 474.90 479.02 483.15 487.27" fill="#353535" stroke="#353535" stroke-width="0.22">GCHATRE</tspan></text>
<text x="78.90" y="336.48" font-family="Liberation Mono" font-size="6.875" fill="#353535" stroke="#353535" stroke-width="0.22">101</text>
<text x="281.02" y="336.48" font-family="Liberation Mono" font-size="6.875" fill="#353535" stroke="#353535" stroke-width="0.22">150</text>
<text x="487.27" y="336.48" font-family="Liberation Mono" font-size="6.875" fill="#353535" stroke="#353535" stroke-width="0.22">200</text>
<text x="116.62" y="336.08" font-family="Liberation Mono" font-size="6.875" fill="#353535" stroke="#353535" stroke-width="0.15">.</text>
<text x="157.88" y="336.08" font-family="Liberation Mono" font-size="6.875" fill="#353535" stroke="#353535" stroke-width="0.15">.</text>
<text x="199.12" y="336.08" font-family="Liberation Mono" font-size="6.875" fill="#353535" stroke="#353535" stroke-width="0.15">.</text>
<text x="240.38" y="336.08" font-family="Liberation Mono" font-size="6.875" fill="#353535" stroke="#353535" stroke-width="0.15">.</text>
<text x="322.88" y="336.08" font-family="Liberation Mono" font-size="6.875" fill="#353535" stroke="#353535" stroke-width="0.15">.</text>
<text x="364.12" y="336.08" font-family="Liberation Mono" font-size="6.875" fill="#353535" stroke="#353535" stroke-width="0.15">.</text>
<text x="405.38" y="336.08" font-family="Liberation Mono" font-size="6.875" fill="#353535" stroke="#353535" stroke-width="0.15">.</text>
<text x="446.62" y="336.08" font-family="Liberation Mono" font-size="6.875" fill="#353535" stroke="#353535" stroke-width="0.15">.</text>
<path d="M456.34 332.98L456.34 337.98M458.50 334.23L454.17 336.73M458.50 336.73L454.17 334.23" stroke="#1f3a78" stroke-width="1.3" fill="none"/>
<text transform="matrix(1 0 0 1.08 0 345.20)" y="0" font-family="Liberation Mono" font-size="6.875"><tspan x="8.78 12.90 17.03 21.15 25.28 29.40 33.53 37.65" fill="#404040" stroke="#404040" stroke-width="0.12">OC43_CoV</tspan><tspan x="78.90 83.03" fill="#d62f38" stroke="#d62f38" stroke-width="0.22">SI</tspan><tspan x="87.15 91.28 95.40" fill="#353535" stroke="#353535" stroke-width="0.22">GTN</tspan><tspan x="99.53" fill="#d62f38" stroke="#d62f38" stroke-width="0.22">F</tspan><tspan x="103.65 107.78 111.90 116.03 120.15 124.28 128.40 132.53 136.65" fill="#353535" stroke="#353535" stroke-width="0.22">PLQLGFSTG</tspan><tspan x="140.78 144.90 149.03" fill="#d62f38" stroke="#d62f38" stroke-width="0.22">IDF</tspan><tspan x="153.15" fill="#353535" stroke="#353535" stroke-width="0.22">V</tspan><tspan x="157.28 161.40 165.53" fill="#d62f38" stroke="#d62f38" stroke-width="0.22">VEA</tspan><tspan x="169.65 173.78" fill="#353535" stroke="#353535" stroke-width="0.22">TG</tspan><tspan x="177.90 182.03 186.15 190.28 194.40 198.53 202.65 206.78 210.90" fill="#d62f38" stroke="#d62f38" stroke-width="0.22">LFADRDGYS</tspan><tspan x="215.03" fill="#353535" stroke="#353535" stroke-width="0.22">F</tspan><tspan x="219.15 223.28 227.40 231.53" fill="#d62f38" stroke="#d62f38" stroke-width="0.22">KKAV</tspan><tspan x="235.65 239.78" fill="#353535" stroke="#353535" stroke-width="0.22">AK</tspan><tspan x="243.90" fill="#d62f38" stroke="#d62f38" stroke-width="0.22">A</tspan><tspan x="248.03 252.15 256.27" fill="#353535" stroke="#353535" stroke-width="0.22">PPG</tspan><tspan x="260.40" fill="#d62f38" stroke="#d62f38" stroke-width="0.22">E</tspan><tspan x="264.52 268.65 272.77 276.90 281.02 285.15 289.27 293.40 297.52" fill="#353535" stroke="#353535" stroke-width="0.22">QFKHLIPLM</tspan><tspan x="301.65 305.77" fill="#d62f38" stroke="#d62f38" stroke-width="0.22">TR</tspan><tspan x="309.90" fill="#353535" stroke="#353535" stroke-width="0.22">G</tspan><tspan x="314.02 318.15" fill="#d62f38" stroke="#d62f38" stroke-width="0.22">HR</tspan><tspan x="322.27" fill="#353535" stroke="#353535" stroke-width="0.22">W</tspan><tspan x="326.40" fill="#d62f38" stroke="#d62f38" stroke-width="0.22">D</tspan><tspan x="330.52 334.65 338.77" fill="#353535" stroke="#353535" stroke-width="0.22">VVR</tspan><tspan x="342.90 347.02" fill="#d62f38" stroke="#d62f38" stroke-width="0.22">PR</tspan><tspan x="351.15 355.27 359.40 363.52" fill="#353535" stroke="#353535" stroke-width="0.22">IVQM</tspan><tspan x="367.65 371.77" fill="#d62f38" stroke="#d62f38" stroke-width="0.22">FA</tspan><tspan x="375.90" fill="#353535" stroke="#353535" stroke-width="0.22">D</tspan><tspan x="380.02" fill="#d62f38" stroke="#d62f38" stroke-width="0.22">H</tspan><tspan x="384.15" fill="#353535" stroke="#353535" stroke-width="0.22">L</tspan><tspan x="388.27 392.40" fill="#d62f38" stroke="#d62f38" stroke-width="0.22">ID</tspan><tspan x="396.52 400.65 404.77" fill="#353535" stroke="#353535" stroke-width="0.22">LSD</tspan><tspan x="408.90" fill="#d62f38" stroke="#d62f38" stroke-width="0.22">C</tspan><tspan x="413.02 417.15" fill="#353535" stroke="#353535" stroke-width="0.22">VV</tspan><tspan x="421.27" fill="#d62f38" stroke="#d62f38" stroke-width="0.22">L</tspan><tspan x="425.40" fill="#353535" stroke="#353535" stroke-width="0.22">V</tspan><tspan x="429.52" fill="#d62f38" stroke="#d62f38" stroke-width="0.22">T</tspan><tspan x="433.65 437.77" fill="#353535" stroke="#353535" stroke-width="0.22">WA</tspan><tspan x="441.90 446.02" fill="#d62f38" stroke="#d62f38" stroke-width="0.22">AN</tspan><tspan x="450.15" fill="#353535" stroke="#353535" stroke-width="0.22">F</tspan><tspan x="454.27" fill="#353535" stroke="#353535" stroke-width="0.05" font-weight="bold">E</tspan><tspan x="458.40 462.52" fill="#353535" stroke="#353535" stroke-width="0.22">LT</tspan><tspan x="466.65 470.77 474.90" fill="#d62f38" stroke="#d62f38" stroke-width="0.22">CLR</tspan><tspan x="479.02 483.15" fill="#353535" stroke="#353535" stroke-width="0.22">YF</tspan><tspan x="487.27" fill="#d62f38" stroke="#d62f38" stroke-width="0.22">A</tspan></text>
<text transform="matrix(1 0 0 1.08 0 353.92)" y="0" font-family="Liberation Mono" font-size="6.875"><tspan x="8.78 12.90 17.03 21.15 25.28 29.40 33.53 37.65" fill="#404040" stroke="#404040" stroke-width="0.12">MERS_CoV</tspan><tspan x="78.90" fill="#353535" stroke="#353535" stroke-width="0.22">A</tspan><tspan x="83.03" fill="#d62f38" stroke="#d62f38" stroke-width="0.22">C</tspan><tspan x="87.15 91.28 95.40" fill="#353535" stroke="#353535" stroke-width="0.22">GTN</tspan><tspan x="99.53" fill="#d62f38" stroke="#d62f38" stroke-width="0.22">V</tspan><tspan x="103.65 107.78 111.90 116.03 120.15 124.28 128.40 132.53 136.65 140.78 144.90" fill="#353535" stroke="#353535" stroke-width="0.22">PLQLGFSTGVN</tspan><tspan x="149.03" fill="#d62f38" stroke="#d62f38" stroke-width="0.22">F</tspan><tspan x="153.15" fill="#353535" stroke="#353535" stroke-width="0.22">V</tspan><tspan x="157.28 161.40" fill="#d62f38" stroke="#d62f38" stroke-width="0.22">VQ</tspan><tspan x="165.53" fill="#353535" stroke="#353535" stroke-width="0.22">P</tspan><tspan x="169.65" fill="#d62f38" stroke="#d62f38" stroke-width="0.22">V</tspan><tspan x="173.78" fill="#353535" stroke="#353535" stroke-width="0.22">G</tspan><tspan x="177.90" fill="#d62f38" stroke="#d62f38" stroke-width="0.22">V</tspan><tspan x="182.03 186.15 190.28" fill="#353535" stroke="#353535" stroke-width="0.22">VDT</tspan><tspan x="194.40 198.53 202.65 206.78 210.90 215.03 219.15 223.28 227.40 231.53" fill="#d62f38" stroke="#d62f38" stroke-width="0.22">EWGNMLTGIA</tspan><tspan x="235.65" fill="#353535" stroke="#353535" stroke-width="0.22">A</tspan><tspan x="239.78" fill="#d62f38" stroke="#d62f38" stroke-width="0.22">R</tspan><tspan x="243.90 248.03 252.15 256.27" fill="#353535" stroke="#353535" stroke-width="0.22">PPPG</tspan><tspan x="260.40" fill="#d62f38" stroke="#d62f38" stroke-width="0.22">E</tspan><tspan x="264.52 268.65 272.77 276.90 281.02" fill="#353535" stroke="#353535" stroke-width="0.22">QFKHL</tspan><tspan x="285.15" fill="#d62f38" stroke="#d62f38" stroke-width="0.22">V</tspan><tspan x="289.27 293.40 297.52" fill="#353535" stroke="#353535" stroke-width="0.22">PLM</tspan><tspan x="301.65" fill="#d62f38" stroke="#d62f38" stroke-width="0.22">H</tspan><tspan x="305.77 309.90" fill="#353535" stroke="#353535" stroke-width="0.22">KG</tspan><tspan x="314.02 318.15" fill="#d62f38" stroke="#d62f38" stroke-width="0.22">AA</tspan><tspan x="322.27" fill="#353535" stroke="#353535" stroke-width="0.22">W</tspan><tspan x="326.40 330.52" fill="#d62f38" stroke="#d62f38" stroke-width="0.22">PI</tspan><tspan x="334.65 338.77" fill="#353535" stroke="#353535" stroke-width="0.22">VR</tspan><tspan x="342.90 347.02" fill="#d62f38" stroke="#d62f38" stroke-width="0.22">RR</tspan><tspan x="351.15 355.27 359.40 363.52 367.65 371.77 375.90 380.02 384.15" fill="#353535" stroke="#353535" stroke-width="0.22">IVQMLSDTL</tspan><tspan x="388.27 392.40" fill="#d62f38" stroke="#d62f38" stroke-width="0.22">DK</tspan><tspan x="396.52 400.65 404.77" fill="#353535" stroke="#353535" stroke-width="0.22">LSD</tspan><tspan x="408.90 413.02 417.15" fill="#d62f38" stroke="#d62f38" stroke-width="0.22">YCT</tspan><tspan x="421.27 425.40" fill="#353535" stroke="#353535" stroke-width="0.22">FV</tspan><tspan x="429.52" fill="#d62f38" stroke="#d62f38" stroke-width="0.22">C</tspan><tspan x="433.65 437.77 441.90 446.02 450.15" fill="#353535" stroke="#353535" stroke-width="0.22">WAHGF</tspan><tspan x="454.27" fill="#353535" stroke="#353535" stroke-width="0.05" font-weight="bold">E</tspan><tspan x="458.40 462.52 466.65" fill="#353535" stroke="#353535" stroke-width="0.22">LTS</tspan><tspan x="470.77 474.90" fill="#d62f38" stroke="#d62f38" stroke-width="0.22">AS</tspan><tspan x="479.02 483.15" fill="#353535" stroke="#353535" stroke-width="0.22">YF</tspan><tspan x="487.27" fill="#d62f38" stroke="#d62f38" stroke-width="0.22">C</tspan></text>
<text transform="matrix(1 0 0 1.08 0 362.64)" y="0" font-family="Liberation Mono" font-size="6.875"><tspan x="8.78 12.90 17.03 21.15 25.28 29.40 33.53 37.65 41.78 45.90" fill="#404040" stroke="#404040" stroke-width="0.12">SARS_CoV-1</tspan><tspan x="78.90 83.03 87.15 91.28 95.40 99.53 103.65 107.78 111.90 116.03 120.15 124.28 128.40 132.53 136.65 140.78 144.90 149.03 153.15 157.28 161.40 165.53 169.65 173.78 177.90 182.03 186.15 190.28" fill="#353535" stroke="#353535" stroke-width="0.22">AVGTNLPLQLGFSTGVNLVAVPTGYVDT</tspan><tspan x="194.40" fill="#d62f38" stroke="#d62f38" stroke-width="0.22">E</tspan><tspan x="198.53 202.65 206.78" fill="#353535" stroke="#353535" stroke-width="0.22">NNT</tspan><tspan x="210.90" fill="#d62f38" stroke="#d62f38" stroke-width="0.22">E</tspan><tspan x="215.03" fill="#353535" stroke="#353535" stroke-width="0.22">F</tspan><tspan x="219.15" fill="#d62f38" stroke="#d62f38" stroke-width="0.22">T</tspan><tspan x="223.28 227.40" fill="#353535" stroke="#353535" stroke-width="0.22">RV</tspan><tspan x="231.53" fill="#d62f38" stroke="#d62f38" stroke-width="0.22">N</tspan><tspan x="235.65 239.78 243.90 248.03 252.15 256.27 260.40 264.52 268.65 272.77 276.90 281.02 285.15 289.27 293.40 297.52 301.65 305.77 309.90 314.02 318.15 322.27 326.40 330.52 334.65 338.77 342.90 347.02 351.15 355.27 359.40 363.52 367.65 371.77 375.90 380.02 384.15 388.27" fill="#353535" stroke="#353535" stroke-width="0.22">AKPPPGDQFKHLIPLMYKGLPWNVVRIKIVQMLSDTLK</tspan><tspan x="392.40" fill="#d62f38" stroke="#d62f38" stroke-width="0.22">G</tspan><tspan x="396.52 400.65 404.77 408.90 413.02 417.15 421.27 425.40 429.52 433.65 437.77 441.90 446.02 450.15" fill="#353535" stroke="#353535" stroke-width="0.22">LSDRVVFVLWAHGF</tspan><tspan x="454.27" fill="#353535" stroke="#353535" stroke-width="0.05" font-weight="bold">E</tspan><tspan x="458.40 462.52 466.65 470.77 474.90 479.02 483.15 487.27" fill="#353535" stroke="#353535" stroke-width="0.22">LTSMKYFV</tspan></text>
<rect x="78.50" y="364.26" width="413.70" height="8.5" fill="#0d0d95"/>
<text transform="matrix(1 0 0 1.08 0 371.36)" y="0" font-family="Liberation Mono" font-size="6.875"><tspan x="8.78 12.90 17.03 21.15 25.28 29.40 33.53 37.65 41.78 45.90 50.03 54.15 58.28 62.40 66.53 70.65" fill="#404040" stroke="#404040" stroke-width="0.12">SARS_CoV-2 Wuhan</tspan><tspan x="78.90 83.03 87.15 91.28 95.40 99.53 103.65 107.78 111.90 116.03 120.15 124.28 128.40 132.53 136.65 140.78 144.90 149.03 153.15 157.28 161.40 165.53 169.65 173.78 177.90 182.03 186.15 190.28 194.40 198.53 202.65 206.78 210.90 215.03 219.15 223.28 227.40 231.53 235.65 239.78 243.90 248.03 252.15 256.27 260.40 264.52 268.65 272.77 276.90 281.02 285.15 289.27 293.40 297.52 301.65 305.77 309.90 314.02 318.15 322.27 326.40 330.52 334.65 338.77 342.90 347.02 351.15 355.27 359.40 363.52 367.65 371.77 375.90 380.02 384.15 388.27 392.40 396.52 400.65 404.77 408.90 413.02 417.15 421.27 425.40 429.52 433.65 437.77 441.90 446.02 450.15" fill="#d8d8f4" stroke="#d8d8f4" stroke-width="0.22">AVGTNLPLQLGFSTGVNLVAVPTGYVDTPNNTDFSRVSAKPPPGDQFKHLIPLMYKGLPWNVVRIKIVQMLSDTLKNLSDRVVFVLWAHGF</tspan><tspan x="454.27" fill="#d8d8f4" stroke="#d8d8f4" stroke-width="0.05" font-weight="bold">E</tspan><tspan x="458.40 462.52 466.65 470.77 474.90 479.02 483.15 487.27" fill="#d8d8f4" stroke="#d8d8f4" stroke-width="0.22">LTSMKYFV</tspan></text>
<text transform="matrix(1 0 0 1.08 0 380.08)" y="0" font-family="Liberation Mono" font-size="6.875"><tspan x="8.78 12.90 17.03 21.15 25.28 29.40 33.53 37.65 41.78 45.90 50.03 54.15 58.28 62.40 66.53 70.65" fill="#404040" stroke="#404040" stroke-width="0.12">SARS_CoV-2 Delta</tspan><tspan x="78.90 83.03 87.15 91.28 95.40 99.53 103.65 107.78 111.90 116.03 120.15 124.28 128.40 132.53 136.65 140.78 144.90 149.03 153.15 157.28 161.40 165.53 169.65 173.78 177.90 182.03 186.15 190.28 194.40 198.53 202.65 206.78 210.90 215.03 219.15 223.28 227.40 231.53 235.65 239.78 243.90 248.03 252.15 256.27 260.40 264.52 268.65 272.77 276.90 281.02 285.15 289.27 293.40 297.52 301.65 305.77 309.90 314.02 318.15 322.27 326.40 330.52 334.65 338.77 342.90 347.02 351.15 355.27 359.40 363.52 367.65 371.77 375.90 380.02 384.15 388.27 392.40 396.52 400.65 404.77 408.90 413.02 417.15 421.27 425.40 429.52 433.65 437.77 441.90 446.02 450.15" fill="#353535" stroke="#353535" stroke-width="0.22">AVGTNLPLQLGFSTGVNLVAVPTGYVDTPNNTDFSRVSAKPPPGDQFKHLIPLMYKGLPWNVVRIKIVQMLSDTLKNLSDRVVFVLWAHGF</tspan><tspan x="454.27" fill="#353535" stroke="#353535" stroke-width="0.05" font-weight="bold">E</tspan><tspan x="458.40 462.52 466.65 470.77 474.90 479.02 483.15 487.27" fill="#353535" stroke="#353535" stroke-width="0.22">LTSMKYFV</tspan></text>
<text transform="matrix(1 0 0 1.08 0 388.80)" y="0" font-family="Liberation Mono" font-size="6.875"><tspan x="8.78 12.90 17.03 21.15 25.28 29.40 33.53 37.65 41.78 45.90 50.03 54.15 58.28 62.40 66.53" fill="#404040" stroke="#404040" stroke-width="0.12">SARS_CoV-2 BA.1</tspan><tspan x="78.90 83.03 87.15 91.28 95.40 99.53 103.65 107.78 111.90 116.03 120.15 124.28 128.40 132.53 136.65 140.78 144.90 149.03 153.15 157.28 161.40 165.53 169.65 173.78 177.90 182.03 186.15 190.28 194.40 198.53 202.65 206.78 210.90 215.03 219.15 223.28 227.40 231.53 235.65 239.78 243.90 248.03 252.15 256.27 260.40 264.52 268.65 272.77 276.90 281.02 285.15 289.27 293.40 297.52 301.65 305.77 309.90 314.02 318.15 322.27 326.40 330.52 334.65 338.77 342.90 347.02 351.15 355.27 359.40 363.52 367.65 371.77 375.90 380.02 384.15 388.27 392.40 396.52 400.65 404.77 408.90 413.02 417.15 421.27 425.40 429.52 433.65 437.77 441.90 446.02 450.15" fill="#353535" stroke="#353535" stroke-width="0.22">AVGTNLPLQLGFSTGVNLVAVPTGYVDTPNNTDFSRVSAKPPPGDQFKHLIPLMYKGLPWNVVRIKIVQMLSDTLKNLSDRVVFVLWAHGF</tspan><tspan x="454.27" fill="#353535" stroke="#353535" stroke-width="0.05" font-weight="bold">E</tspan><tspan x="458.40 462.52 466.65 470.77 474.90 479.02 483.15 487.27" fill="#353535" stroke="#353535" stroke-width="0.22">LTSMKYFV</tspan></text>
<text transform="matrix(1 0 0 1.08 0 397.52)" y="0" font-family="Liberation Mono" font-size="6.875"><tspan x="8.78 12.90 17.03 21.15 25.28 29.40 33.53 37.65 41.78 45.90 50.03 54.15 58.28 62.40 66.53" fill="#404040" stroke="#404040" stroke-width="0.12">SARS_CoV-2 BA.2</tspan><tspan x="78.90 83.03 87.15 91.28 95.40 99.53 103.65 107.78 111.90 116.03 120.15 124.28 128.40 132.53 136.65 140.78 144.90 149.03 153.15 157.28 161.40 165.53 169.65 173.78 177.90 182.03 186.15 190.28 194.40 198.53 202.65 206.78 210.90 215.03 219.15 223.28 227.40 231.53 235.65 239.78 243.90 248.03 252.15 256.27 260.40 264.52 268.65 272.77 276.90 281.02 285.15 289.27 293.40 297.52 301.65 305.77 309.90 314.02 318.15 322.27 326.40 330.52 334.65 338.77 342.90 347.02 351.15 355.27 359.40 363.52 367.65 371.77 375.90 380.02 384.15 388.27 392.40 396.52 400.65 404.77 408.90 413.02 417.15 421.27 425.40 429.52 433.65 437.77 441.90 446.02 450.15" fill="#353535" stroke="#353535" stroke-width="0.22">AVGTNLPLQLGFSTGVNLVAVPTGYVDTPNNTDFSRVSAKPPPGDQFKHLIPLMYKGLPWNVVRIKIVQMLSDTLKNLSDRVVFVLWAHGF</tspan><tspan x="454.27" fill="#353535" stroke="#353535" stroke-width="0.05" font-weight="bold">E</tspan><tspan x="458.40 462.52 466.65 470.77 474.90 479.02 483.15 487.27" fill="#353535" stroke="#353535" stroke-width="0.22">LTSMKYFV</tspan></text>
<text x="78.90" y="432.78" font-family="Liberation Mono" font-size="6.875" fill="#353535" stroke="#353535" stroke-width="0.22">201</text>
<text x="281.02" y="432.78" font-family="Liberation Mono" font-size="6.875" fill="#353535" stroke="#353535" stroke-width="0.22">250</text>
<text x="116.62" y="432.38" font-family="Liberation Mono" font-size="6.875" fill="#353535" stroke="#353535" stroke-width="0.15">.</text>
<text x="157.88" y="432.38" font-family="Liberation Mono" font-size="6.875" fill="#353535" stroke="#353535" stroke-width="0.15">.</text>
<text x="199.12" y="432.38" font-family="Liberation Mono" font-size="6.875" fill="#353535" stroke="#353535" stroke-width="0.15">.</text>
<text x="240.38" y="432.38" font-family="Liberation Mono" font-size="6.875" fill="#353535" stroke="#353535" stroke-width="0.15">.</text>
<text x="322.88" y="432.38" font-family="Liberation Mono" font-size="6.875" fill="#353535" stroke="#353535" stroke-width="0.15">.</text>
<text x="364.12" y="432.38" font-family="Liberation Mono" font-size="6.875" fill="#353535" stroke="#353535" stroke-width="0.15">.</text>
<text x="405.38" y="432.38" font-family="Liberation Mono" font-size="6.875" fill="#353535" stroke="#353535" stroke-width="0.15">.</text>
<path d="M361.46 429.28L361.46 434.28M363.63 430.53L359.30 433.03M363.63 433.03L359.30 430.53" stroke="#1f3a78" stroke-width="1.3" fill="none"/>
<path d="M382.09 429.28L382.09 434.28M384.25 430.53L379.92 433.03M384.25 433.03L379.92 430.53" stroke="#1f3a78" stroke-width="1.3" fill="none"/>
<text transform="matrix(1 0 0 1.08 0 441.50)" y="0" font-family="Liberation Mono" font-size="6.875"><tspan x="8.78 12.90 17.03 21.15 25.28 29.40 33.53 37.65" fill="#404040" stroke="#404040" stroke-width="0.12">OC43_CoV</tspan><tspan x="78.90" fill="#353535" stroke="#353535" stroke-width="0.22">K</tspan><tspan x="83.03" fill="#d62f38" stroke="#d62f38" stroke-width="0.22">V</tspan><tspan x="87.15" fill="#353535" stroke="#353535" stroke-width="0.22">G</tspan><tspan x="91.28" fill="#d62f38" stroke="#d62f38" stroke-width="0.22">R</tspan><tspan x="95.40" fill="#353535" stroke="#353535" stroke-width="0.22">E</tspan><tspan x="99.53 103.65" fill="#d62f38" stroke="#d62f38" stroke-width="0.22">IS</tspan><tspan x="107.78" fill="#353535" stroke="#353535" stroke-width="0.22">C</tspan><tspan x="111.90 116.03" fill="#d62f38" stroke="#d62f38" stroke-width="0.22">NV</tspan><tspan x="120.15" fill="#353535" stroke="#353535" stroke-width="0.22">C</tspan><tspan x="124.28 128.40" fill="#d62f38" stroke="#d62f38" stroke-width="0.22">TK</tspan><tspan x="132.53 136.65 140.78" fill="#353535" stroke="#353535" stroke-width="0.22">RAT</tspan><tspan x="144.90 149.03 153.15 157.28 161.40 165.53 169.65 173.78" fill="#d62f38" stroke="#d62f38" stroke-width="0.22">VYNSRTGY</tspan><tspan x="177.90" fill="#353535" stroke="#353535" stroke-width="0.22">Y</tspan><tspan x="182.03" fill="#d62f38" stroke="#d62f38" stroke-width="0.22">G</tspan><tspan x="186.15 190.28" fill="#353535" stroke="#353535" stroke-width="0.22">CW</tspan><tspan x="194.40" fill="#d62f38" stroke="#d62f38" stroke-width="0.22">R</tspan><tspan x="198.53 202.65" fill="#353535" stroke="#353535" stroke-width="0.22">HS</tspan><tspan x="206.78 210.90 215.03" fill="#d62f38" stroke="#d62f38" stroke-width="0.22">VTC</tspan><tspan x="219.15 223.28" fill="#353535" stroke="#353535" stroke-width="0.22">DY</tspan><tspan x="227.40" fill="#d62f38" stroke="#d62f38" stroke-width="0.22">L</tspan><tspan x="231.53 235.65 239.78" fill="#353535" stroke="#353535" stroke-width="0.22">YNP</tspan><tspan x="243.90 248.03 252.15" fill="#d62f38" stroke="#d62f38" stroke-width="0.22">LIV</tspan><tspan x="256.27" fill="#353535" stroke="#353535" stroke-width="0.22">D</tspan><tspan x="260.40" fill="#d62f38" stroke="#d62f38" stroke-width="0.22">I</tspan><tspan x="264.52 268.65 272.77 276.90" fill="#353535" stroke="#353535" stroke-width="0.22">QQWG</tspan><tspan x="281.02 285.15" fill="#d62f38" stroke="#d62f38" stroke-width="0.22">YI</tspan><tspan x="289.27" fill="#353535" stroke="#353535" stroke-width="0.22">G</tspan><tspan x="293.40" fill="#d62f38" stroke="#d62f38" stroke-width="0.22">S</tspan><tspan x="297.52" fill="#353535" stroke="#353535" stroke-width="0.22">L</tspan><tspan x="301.65" fill="#d62f38" stroke="#d62f38" stroke-width="0.22">S</tspan><tspan x="305.77 309.90 314.02 318.15 322.27 326.40 330.52" fill="#353535" stroke="#353535" stroke-width="0.22">SNHDLYC</tspan><tspan x="334.65" fill="#d62f38" stroke="#d62f38" stroke-width="0.22">S</tspan><tspan x="338.77 342.90" fill="#353535" stroke="#353535" stroke-width="0.22">VH</tspan><tspan x="347.02 351.15" fill="#d62f38" stroke="#d62f38" stroke-width="0.22">KG</tspan><tspan x="355.27" fill="#353535" stroke="#353535" stroke-width="0.22">A</tspan><tspan x="359.40" fill="#353535" stroke="#353535" stroke-width="0.05" font-weight="bold">H</tspan><tspan x="363.52 367.65 371.77" fill="#353535" stroke="#353535" stroke-width="0.22">VAS</tspan><tspan x="375.90" fill="#d62f38" stroke="#d62f38" stroke-width="0.22">S</tspan><tspan x="380.02" fill="#353535" stroke="#353535" stroke-width="0.05" font-weight="bold">D</tspan><tspan x="384.15 388.27 392.40 396.52 400.65 404.77" fill="#353535" stroke="#353535" stroke-width="0.22">AIMTRC</tspan></text>
<text transform="matrix(1 0 0 1.08 0 450.22)" y="0" font-family="Liberation Mono" font-size="6.875"><tspan x="8.78 12.90 17.03 21.15 25.28 29.40 33.53 37.65" fill="#404040" stroke="#404040" stroke-width="0.12">MERS_CoV</tspan><tspan x="78.90 83.03 87.15" fill="#353535" stroke="#353535" stroke-width="0.22">KIG</tspan><tspan x="91.28" fill="#d62f38" stroke="#d62f38" stroke-width="0.22">K</tspan><tspan x="95.40" fill="#353535" stroke="#353535" stroke-width="0.22">E</tspan><tspan x="99.53 103.65" fill="#d62f38" stroke="#d62f38" stroke-width="0.22">QK</tspan><tspan x="107.78 111.90" fill="#353535" stroke="#353535" stroke-width="0.22">CC</tspan><tspan x="116.03" fill="#d62f38" stroke="#d62f38" stroke-width="0.22">M</tspan><tspan x="120.15" fill="#353535" stroke="#353535" stroke-width="0.22">C</tspan><tspan x="124.28" fill="#d62f38" stroke="#d62f38" stroke-width="0.22">N</tspan><tspan x="128.40 132.53 136.65" fill="#353535" stroke="#353535" stroke-width="0.22">RRA</tspan><tspan x="140.78 144.90 149.03" fill="#d62f38" stroke="#d62f38" stroke-width="0.22">AAY</tspan><tspan x="153.15" fill="#353535" stroke="#353535" stroke-width="0.22">S</tspan><tspan x="157.28 161.40 165.53 169.65 173.78" fill="#d62f38" stroke="#d62f38" stroke-width="0.22">SPLQS</tspan><tspan x="177.90 182.03 186.15 190.28" fill="#353535" stroke="#353535" stroke-width="0.22">YACW</tspan><tspan x="194.40" fill="#d62f38" stroke="#d62f38" stroke-width="0.22">T</tspan><tspan x="198.53 202.65" fill="#353535" stroke="#353535" stroke-width="0.22">HS</tspan><tspan x="206.78" fill="#d62f38" stroke="#d62f38" stroke-width="0.22">C</tspan><tspan x="210.90" fill="#353535" stroke="#353535" stroke-width="0.22">G</tspan><tspan x="215.03" fill="#d62f38" stroke="#d62f38" stroke-width="0.22">Y</tspan><tspan x="219.15 223.28 227.40 231.53 235.65 239.78 243.90" fill="#353535" stroke="#353535" stroke-width="0.22">DYVYNPF</tspan><tspan x="248.03 252.15" fill="#d62f38" stroke="#d62f38" stroke-width="0.22">FV</tspan><tspan x="256.27 260.40 264.52 268.65 272.77 276.90" fill="#353535" stroke="#353535" stroke-width="0.22">DVQQWG</tspan><tspan x="281.02 285.15" fill="#d62f38" stroke="#d62f38" stroke-width="0.22">YV</tspan><tspan x="289.27 293.40 297.52" fill="#353535" stroke="#353535" stroke-width="0.22">GNL</tspan><tspan x="301.65 305.77" fill="#d62f38" stroke="#d62f38" stroke-width="0.22">AT</tspan><tspan x="309.90 314.02 318.15" fill="#353535" stroke="#353535" stroke-width="0.22">NHD</tspan><tspan x="322.27" fill="#d62f38" stroke="#d62f38" stroke-width="0.22">R</tspan><tspan x="326.40 330.52" fill="#353535" stroke="#353535" stroke-width="0.22">YC</tspan><tspan x="334.65" fill="#d62f38" stroke="#d62f38" stroke-width="0.22">S</tspan><tspan x="338.77 342.90" fill="#353535" stroke="#353535" stroke-width="0.22">VH</tspan><tspan x="347.02 351.15" fill="#d62f38" stroke="#d62f38" stroke-width="0.22">QG</tspan><tspan x="355.27" fill="#353535" stroke="#353535" stroke-width="0.22">A</tspan><tspan x="359.40" fill="#353535" stroke="#353535" stroke-width="0.05" font-weight="bold">H</tspan><tspan x="363.52 367.65 371.77" fill="#353535" stroke="#353535" stroke-width="0.22">VAS</tspan><tspan x="375.90" fill="#d62f38" stroke="#d62f38" stroke-width="0.22">N</tspan><tspan x="380.02" fill="#353535" stroke="#353535" stroke-width="0.05" font-weight="bold">D</tspan><tspan x="384.15 388.27 392.40 396.52 400.65 404.77" fill="#353535" stroke="#353535" stroke-width="0.22">AIMTRC</tspan></text>
<text transform="matrix(1 0 0 1.08 0 458.94)" y="0" font-family="Liberation Mono" font-size="6.875"><tspan x="8.78 12.90 17.03 21.15 25.28 29.40 33.53 37.65 41.78 45.90" fill="#404040" stroke="#404040" stroke-width="0.12">SARS_CoV-1</tspan><tspan x="78.90 83.03 87.15 91.28 95.40 99.53 103.65 107.78 111.90 116.03 120.15 124.28" fill="#353535" stroke="#353535" stroke-width="0.22">KIGPERTCCLCD</tspan><tspan x="128.40" fill="#d62f38" stroke="#d62f38" stroke-width="0.22">K</tspan><tspan x="132.53 136.65 140.78 144.90 149.03 153.15 157.28" fill="#353535" stroke="#353535" stroke-width="0.22">RATCFST</tspan><tspan x="161.40" fill="#d62f38" stroke="#d62f38" stroke-width="0.22">S</tspan><tspan x="165.53 169.65 173.78 177.90 182.03 186.15 190.28" fill="#353535" stroke="#353535" stroke-width="0.22">SDTYACW</tspan><tspan x="194.40" fill="#d62f38" stroke="#d62f38" stroke-width="0.22">N</tspan><tspan x="198.53 202.65" fill="#353535" stroke="#353535" stroke-width="0.22">HS</tspan><tspan x="206.78" fill="#d62f38" stroke="#d62f38" stroke-width="0.22">V</tspan><tspan x="210.90 215.03 219.15 223.28 227.40 231.53 235.65 239.78 243.90 248.03 252.15 256.27 260.40 264.52 268.65 272.77 276.90 281.02 285.15 289.27 293.40 297.52 301.65 305.77 309.90 314.02 318.15" fill="#353535" stroke="#353535" stroke-width="0.22">GFDYVYNPFMIDVQQWGFTGNLQSNHD</tspan><tspan x="322.27 326.40" fill="#d62f38" stroke="#d62f38" stroke-width="0.22">QH</tspan><tspan x="330.52 334.65 338.77 342.90 347.02 351.15 355.27" fill="#353535" stroke="#353535" stroke-width="0.22">CQVHGNA</tspan><tspan x="359.40" fill="#353535" stroke="#353535" stroke-width="0.05" font-weight="bold">H</tspan><tspan x="363.52 367.65 371.77 375.90" fill="#353535" stroke="#353535" stroke-width="0.22">VASC</tspan><tspan x="380.02" fill="#353535" stroke="#353535" stroke-width="0.05" font-weight="bold">D</tspan><tspan x="384.15 388.27 392.40 396.52 400.65 404.77" fill="#353535" stroke="#353535" stroke-width="0.22">AIMTRC</tspan></text>
<rect x="78.50" y="460.56" width="331.20" height="8.5" fill="#0d0d95"/>
<text transform="matrix(1 0 0 1.08 0 467.66)" y="0" font-family="Liberation Mono" font-size="6.875"><tspan x="8.78 12.90 17.03 21.15 25.28 29.40 33.53 37.65 41.78 45.90 50.03 54.15 58.28 62.40 66.53 70.65" fill="#404040" stroke="#404040" stroke-width="0.12">SARS_CoV-2 Wuhan</tspan><tspan x="78.90 83.03 87.15 91.28 95.40 99.53 103.65 107.78 111.90 116.03 120.15 124.28 128.40 132.53 136.65 140.78 144.90 149.03 153.15 157.28 161.40 165.53 169.65 173.78 177.90 182.03 186.15 190.28 194.40 198.53 202.65 206.78 210.90 215.03 219.15 223.28 227.40 231.53 235.65 239.78 243.90 248.03 252.15 256.27 260.40 264.52 268.65 272.77 276.90 281.02 285.15 289.27 293.40 297.52 301.65 305.77 309.90 314.02 318.15 322.27 326.40 330.52 334.65 338.77 342.90 347.02 351.15 355.27" fill="#d8d8f4" stroke="#d8d8f4" stroke-width="0.22">KIGPERTCCLCDRRATCFSTASDTYACWHHSIGFDYVYNPFMIDVQQWGFTGNLQSNHDLYCQVHGNA</tspan><tspan x="359.40" fill="#d8d8f4" stroke="#d8d8f4" stroke-width="0.05" font-weight="bold">H</tspan><tspan x="363.52 367.65 371.77 375.90" fill="#d8d8f4" stroke="#d8d8f4" stroke-width="0.22">VASC</tspan><tspan x="380.02" fill="#d8d8f4" stroke="#d8d8f4" stroke-width="0.05" font-weight="bold">D</tspan><tspan x="384.15 388.27 392.40 396.52 400.65 404.77" fill="#d8d8f4" stroke="#d8d8f4" stroke-width="0.22">AIMTRC</tspan></text>
<text transform="matrix(1 0 0 1.08 0 476.38)" y="0" font-family="Liberation Mono" font-size="6.875"><tspan x="8.78 12.90 17.03 21.15 25.28 29.40 33.53 37.65 41.78 45.90 50.03 54.15 58.28 62.40 66.53 70.65" fill="#404040" stroke="#404040" stroke-width="0.12">SARS_CoV-2 Delta</tspan><tspan x="78.90 83.03 87.15 91.28 95.40 99.53 103.65 107.78 111.90 116.03 120.15 124.28 128.40 132.53 136.65 140.78 144.90 149.03 153.15 157.28 161.40 165.53 169.65 173.78 177.90 182.03 186.15 190.28 194.40 198.53 202.65 206.78 210.90 215.03 219.15 223.28 227.40 231.53 235.65 239.78 243.90 248.03 252.15 256.27 260.40 264.52 268.65 272.77 276.90 281.02 285.15 289.27 293.40 297.52 301.65 305.77 309.90 314.02 318.15 322.27 326.40 330.52 334.65 338.77 342.90 347.02 351.15 355.27" fill="#353535" stroke="#353535" stroke-width="0.22">KIGPERTCCLCDRRATCFSTASDTYACWHHSIGFDYVYNPFMIDVQQWGFTGNLQSNHDLYCQVHGNA</tspan><tspan x="359.40" fill="#353535" stroke="#353535" stroke-width="0.05" font-weight="bold">H</tspan><tspan x="363.52 367.65 371.77 375.90" fill="#353535" stroke="#353535" stroke-width="0.22">VASC</tspan><tspan x="380.02" fill="#353535" stroke="#353535" stroke-width="0.05" font-weight="bold">D</tspan><tspan x="384.15 388.27 392.40 396.52 400.65 404.77" fill="#353535" stroke="#353535" stroke-width="0.22">AIMTRC</tspan></text>
<text transform="matrix(1 0 0 1.08 0 485.10)" y="0" font-family="Liberation Mono" font-size="6.875"><tspan x="8.78 12.90 17.03 21.15 25.28 29.40 33.53 37.65 41.78 45.90 50.03 54.15 58.28 62.40 66.53" fill="#404040" stroke="#404040" stroke-width="0.12">SARS_CoV-2 BA.1</tspan><tspan x="78.90 83.03 87.15 91.28 95.40 99.53 103.65 107.78 111.90 116.03 120.15 124.28 128.40 132.53 136.65 140.78 144.90 149.03 153.15 157.28 161.40 165.53 169.65 173.78 177.90 182.03 186.15 190.28 194.40 198.53 202.65 206.78 210.90 215.03 219.15 223.28 227.40 231.53 235.65 239.78 243.90 248.03 252.15 256.27 260.40 264.52 268.65 272.77 276.90 281.02 285.15 289.27 293.40 297.52 301.65 305.77 309.90 314.02 318.15 322.27 326.40 330.52 334.65 338.77 342.90 347.02 351.15 355.27" fill="#353535" stroke="#353535" stroke-width="0.22">KIGPERTCCLCDRRATCFSTASDTYACWHHSIGFDYVYNPFMIDVQQWGFTGNLQSNHDLYCQVHGNA</tspan><tspan x="359.40" fill="#353535" stroke="#353535" stroke-width="0.05" font-weight="bold">H</tspan><tspan x="363.52 367.65 371.77 375.90" fill="#353535" stroke="#353535" stroke-width="0.22">VASC</tspan><tspan x="380.02" fill="#353535" stroke="#353535" stroke-width="0.05" font-weight="bold">D</tspan><tspan x="384.15 388.27 392.40 396.52 400.65 404.77" fill="#353535" stroke="#353535" stroke-width="0.22">AIMTRC</tspan></text>
<text transform="matrix(1 0 0 1.08 0 493.82)" y="0" font-family="Liberation Mono" font-size="6.875"><tspan x="8.78 12.90 17.03 21.15 25.28 29.40 33.53 37.65 41.78 45.90 50.03 54.15 58.28 62.40 66.53" fill="#404040" stroke="#404040" stroke-width="0.12">SARS_CoV-2 BA.2</tspan><tspan x="78.90 83.03 87.15 91.28 95.40 99.53 103.65 107.78 111.90 116.03 120.15 124.28 128.40 132.53 136.65 140.78 144.90 149.03 153.15 157.28 161.40 165.53 169.65 173.78 177.90 182.03 186.15 190.28 194.40 198.53 202.65 206.78 210.90 215.03 219.15 223.28 227.40 231.53 235.65 239.78 243.90 248.03 252.15 256.27 260.40 264.52 268.65 272.77 276.90 281.02 285.15 289.27 293.40 297.52 301.65 305.77 309.90 314.02 318.15 322.27 326.40 330.52 334.65 338.77 342.90 347.02 351.15 355.27" fill="#353535" stroke="#353535" stroke-width="0.22">KIGPERTCCLCDRRATCFSTASDTYACWHHSIGFDYVYNPFMIDVQQWGFTGNLQSNHDLYCQVHGNA</tspan><tspan x="359.40" fill="#353535" stroke="#353535" stroke-width="0.05" font-weight="bold">H</tspan><tspan x="363.52 367.65 371.77 375.90" fill="#353535" stroke="#353535" stroke-width="0.22">VASC</tspan><tspan x="380.02" fill="#353535" stroke="#353535" stroke-width="0.05" font-weight="bold">D</tspan><tspan x="384.15 388.27 392.40 396.52 400.65 404.77" fill="#353535" stroke="#353535" stroke-width="0.22">AIMTRC</tspan></text>
<rect x="78.90" y="231.6" width="266.80" height="1.5" fill="#4472c4"/>
<rect x="358.7" y="232.0" width="132.10" height="1.6" fill="#bf6526"/>
<text x="132.6" y="228.6" font-size="8.2" font-weight="bold" fill="#2f5597" stroke="#2f5597" stroke-width="0.15" textLength="71.9" lengthAdjust="spacingAndGlyphs">Nsp10-binding site</text>
<text x="359.9" y="227.5" font-size="8.6" font-weight="bold" fill="#bf6526" textLength="19.3" lengthAdjust="spacingAndGlyphs">ExoN</text>
<rect x="247.93" y="285.50" width="4.33" height="16.32" fill="#ee1c1c"/>
<text x="248.03" y="292.10" font-family="Liberation Mono" font-size="6.875" fill="#fff">V</text>
<text x="248.03" y="300.82" font-family="Liberation Mono" font-size="6.875" fill="#fff">V</text>
<path d="M97.46 302.20L99.81 306.80L95.11 306.80Z" fill="#3a64ad"/>
<path d="M113.96 302.20L116.31 306.80L111.61 306.80Z" fill="#3a64ad"/>
<path d="M118.09 302.20L120.44 306.80L115.74 306.80Z" fill="#3a64ad"/>
<path d="M155.21 302.20L157.56 306.80L152.86 306.80Z" fill="#3a64ad"/>
<path d="M171.71 302.20L174.06 306.80L169.36 306.80Z" fill="#3a64ad"/>
<path d="M179.96 302.20L182.31 306.80L177.61 306.80Z" fill="#3a64ad"/>
<path d="M184.09 302.20L186.44 306.80L181.74 306.80Z" fill="#3a64ad"/>
<path d="M237.71 302.20L240.06 306.80L235.36 306.80Z" fill="#3a64ad"/>
<path d="M245.96 302.20L248.31 306.80L243.61 306.80Z" fill="#3a64ad"/>
<path d="M291.34 302.20L293.69 306.80L288.99 306.80Z" fill="#3a64ad"/>
<path d="M328.46 302.20L330.81 306.80L326.11 306.80Z" fill="#3a64ad"/>
<path d="M336.71 302.20L339.06 306.80L334.36 306.80Z" fill="#3a64ad"/>
<path d="M344.96 302.20L347.31 306.80L342.61 306.80Z" fill="#3a64ad"/>
<rect x="437.4" y="302.7" width="39.4" height="1.5" fill="#bf6526"/>
<text x="449.2" y="311.4" font-size="8.7" fill="#bf6526" textLength="25.2" lengthAdjust="spacingAndGlyphs">Motif I</text>
<rect x="78.90" y="328.5" width="411.90" height="1.7" fill="#bf6526"/>
<path d="M188.21 399.40L190.56 404.00L185.86 404.00Z" fill="#3a64ad"/>
<path d="M200.59 399.40L202.94 404.00L198.24 404.00Z" fill="#3a64ad"/>
<rect x="435.3" y="400.0" width="30.9" height="1.6" fill="#bf6526"/>
<text x="434.2" y="409.9" font-size="8.7" fill="#bf6526" textLength="31.8" lengthAdjust="spacingAndGlyphs">Motif IIa</text>
<rect x="78.90" y="424.0" width="329.70" height="1.6" fill="#bf6526"/>
<text x="387" y="420.4" font-size="8.6" font-weight="bold" fill="#bf6526" textLength="19.6" lengthAdjust="spacingAndGlyphs">ExoN</text>
<path d="M110.54 497.00L112.64 500.00L110.54 503.00L108.44 500.00Z" fill="#e8141c"/>
<path d="M122.91 497.00L125.01 500.00L122.91 503.00L120.81 500.00Z" fill="#e8141c"/>
<path d="M188.91 497.00L191.01 500.00L188.91 503.00L186.81 500.00Z" fill="#e8141c"/>
<path d="M201.29 497.00L203.39 500.00L201.29 503.00L199.19 500.00Z" fill="#e8141c"/>
<path d="M259.04 497.00L261.14 500.00L259.04 503.00L256.94 500.00Z" fill="#e8141c"/>
<path d="M316.79 497.00L318.89 500.00L316.79 503.00L314.69 500.00Z" fill="#e8141c"/>
<path d="M333.29 497.00L335.39 500.00L333.29 503.00L331.19 500.00Z" fill="#e8141c"/>
<path d="M345.66 497.00L347.76 500.00L345.66 503.00L343.56 500.00Z" fill="#e8141c"/>
<path d="M407.54 497.00L409.64 500.00L407.54 503.00L405.44 500.00Z" fill="#e8141c"/>
<text x="132" y="503.6" font-size="8.8" fill="#44546a" stroke="#44546a" stroke-width="0.12" textLength="46.2" lengthAdjust="spacingAndGlyphs">Zinc finger 1</text>
<text x="353.4" y="502.8" font-size="8.8" fill="#44546a" stroke="#44546a" stroke-width="0.12" textLength="46.2" lengthAdjust="spacingAndGlyphs">Zinc finger 2</text>
<rect x="224.9" y="494.9" width="15.3" height="1.5" fill="#bf6526"/>
<text x="218.1" y="505.1" font-size="8.7" fill="#bf6526" textLength="32.1" lengthAdjust="spacingAndGlyphs">Motif IIb</text>
<rect x="346.0" y="506.1" width="62.6" height="1.6" fill="#bf6526"/>
<text x="361.3" y="514.9" font-size="8.7" fill="#bf6526" textLength="30" lengthAdjust="spacingAndGlyphs">Motif III</text>
<text x="245.6" y="541.9" font-family="Liberation Serif" font-size="13.8" fill="#1a1a1a" textLength="16.6" lengthAdjust="spacingAndGlyphs">(<tspan font-weight="bold">b</tspan>)</text>
</svg>
</body></html>
